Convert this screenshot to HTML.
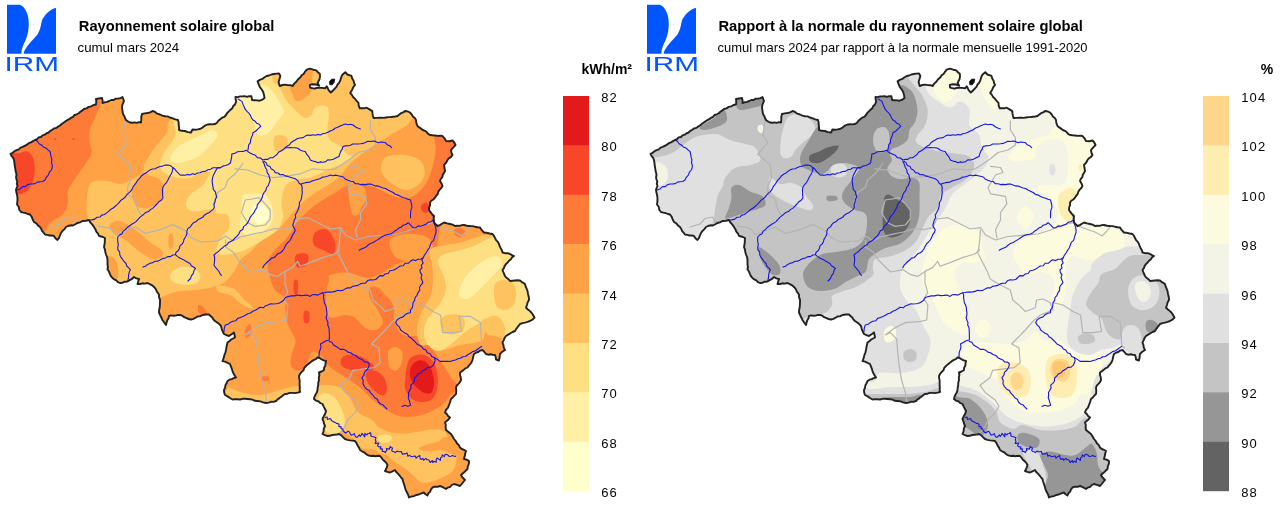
<!DOCTYPE html>
<html><head><meta charset="utf-8"><title>IRM</title>
<style>html,body{margin:0;padding:0;background:#fff}svg{display:block}text{font-family:"Liberation Sans",sans-serif}</style>
</head><body>
<svg width="1280" height="507" viewBox="0 0 1280 507">
<defs><clipPath id="be"><path d="M10.5 153.8 L12.7 152.8 L14.5 151.3 L16.5 150.1 L18.8 149.4 L20.5 147.7 L22.7 146.9 L24.8 145.8 L26.9 144.7 L28.7 143.2 L31 142.4 L33 141.1 L35 140 L37.1 139.2 L38.6 137.4 L41 137 L42.5 135.3 L44.8 134.7 L46.5 133.3 L48.6 132.5 L50.2 130.8 L52.2 129.8 L54 128.5 L56.3 127.9 L58.1 126.6 L60 125.5 L61.7 124 L63.5 122.7 L65.3 121.4 L67.2 120.2 L69.3 119.2 L71 117.8 L73 116.8 L74.6 115 L76.8 114.3 L78.7 113.2 L80.4 111.7 L82.3 110.4 L84 109 L86.5 108.4 L88.7 106.9 L91.2 106.3 L93.5 105 L96 104.5 L96.3 101.8 L96 99 L99 98.5 L102 98 L102.6 100.5 L102.5 103 L104.7 102.3 L107 101.9 L109.2 101 L111.3 100 L113.7 100 L115.7 98.6 L118.1 98.6 L120.4 98.1 L122.5 97 L124 101 L123.1 103.1 L122.3 105.2 L122 107.5 L122.5 110.8 L123 114 L124.2 115.9 L125 118 L126 120 L127.9 121.4 L130 122.5 L132.2 122.7 L134.4 122.4 L136.6 122.9 L138.8 122.1 L141 122.5 L141.3 119.7 L141.3 116.8 L142 114 L144.7 113.4 L147.5 113 L150.2 112.4 L152.5 111 L155.1 111.9 L157.3 113.7 L160 114.5 L162.4 115.6 L165 116.2 L167.6 116.4 L170 117.5 L172.7 118.3 L175.3 119.3 L178 120 L178.6 122.5 L178.7 125 L179.1 127.5 L179 130 L181.9 130.8 L185 131 L187.9 132.1 L191 132.5 L192.5 129.5 L195 129.7 L197.5 129.4 L200 129 L202.5 127.6 L204.8 125.7 L207.5 124.5 L210 124.3 L212.5 124.4 L215 124 L217 122.7 L218.4 120.7 L220.2 119.2 L222.1 117.7 L224.4 116.8 L226 115 L227.2 113 L228.9 111.4 L230.5 109.7 L232.3 108.2 L233.3 106 L235 104.5 L236.2 101.4 L235.6 99.2 L235.5 97 L237.8 97.1 L240 96.4 L242.3 96.4 L244.6 96.1 L246.9 96.8 L249.1 96.1 L251.4 96.2 L252.1 100 L254.6 100.2 L257.2 100.4 L259.7 100.7 L262.3 99.7 L264.5 98 L264 94.9 L263.1 91.8 L261.5 89.3 L259.7 86.9 L258.6 84.2 L257.6 81.4 L259.8 79.9 L262.4 78.9 L264.5 77.3 L266.7 76 L269.1 75.5 L271.4 74.5 L273.9 74 L276.4 73.6 L279 73.5 L280.4 75.9 L279.5 79 L278.6 82.1 L279.7 86 L282.4 85 L285.2 84.6 L287.7 85.1 L290.3 85.2 L292.8 86 L294.2 83.6 L296.3 81.8 L298.1 79.3 L300.4 77.3 L301.7 75.2 L303.8 73.7 L305.1 71.6 L306.7 69.7 L310.1 68.6 L313.2 69.7 L316.3 70.4 L317.9 72.3 L319.8 73.8 L320 76.6 L319.5 79.3 L317.7 82.8 L319.1 85.6 L316.1 84.5 L312.9 84.2 L309.8 84.9 L310.1 87.6 L314.3 88.7 L316.7 88 L319.1 87.6 L322.2 87.9 L325.3 88.3 L326.7 86.2 L327.8 88.3 L328.8 90.4 L330.8 92.5 L333 90.5 L335 88.3 L336.6 86.6 L337.5 84.5 L339.1 82.8 L340.2 80.8 L340.8 78.6 L341.5 76.5 L342.6 74.5 L345.3 72.2 L347.4 74.5 L351.5 75.9 L352.2 78.4 L353.6 80.7 L354 82.9 L355 84.9 L353.3 87.1 L352.2 89.7 L350.2 93.1 L351.9 94.9 L353.1 97.1 L355 98.7 L356.6 100.9 L358.5 102.8 L358.7 105.6 L359.8 108.3 L362.1 108.3 L364.4 108.3 L366.7 107.7 L369.5 109.4 L372.3 111.1 L372.5 113.4 L372.9 115.7 L373.6 118 L376.1 117.9 L378.6 117.8 L381 117.6 L383.5 117.9 L386 117.5 L388.3 117.1 L390.6 117.1 L392.9 116.7 L395.2 116.5 L397.5 116 L399.3 114.6 L401 113.2 L403.2 112.4 L405 111 L407.6 111.4 L410 112.5 L411.6 114.3 L412.8 116.4 L414.8 117.9 L416 120 L416.4 123.1 L417.5 126 L419.2 127.4 L421 128.6 L422.8 130 L424.9 130.8 L426.7 132.1 L428.1 133.9 L430 135 L432.5 135.3 L435 135.5 L437.5 135.9 L440 135.6 L442.5 136 L444.5 138.3 L446 141 L449.3 141.2 L452.5 140.5 L454.3 142.5 L455.5 145 L454 146.7 L452.4 148.3 L451 150 L451.4 152.6 L452.5 155 L451.1 156.9 L449 158.2 L447.5 160 L446.1 162.7 L444 165 L444.5 168 L445 171 L443.9 173 L442.7 174.9 L442.4 177.2 L440.8 178.9 L440 181 L441.5 183.4 L442.5 186 L441.3 188 L439.5 189.8 L438.3 191.8 L437.6 194.2 L436 196 L434.8 197.9 L433.3 199.5 L431.3 200.7 L430 202.5 L430.1 205.1 L429.1 207.5 L429 210 L430.5 212.2 L432.1 214.2 L434 216 L433.6 219.2 L434 222.5 L435.7 224.3 L437.5 226 L439.8 225.1 L441.9 223.7 L444 222.5 L447 223.4 L450 224 L452.6 224.6 L455 226 L457.3 225.8 L459.5 225.9 L461.7 225.1 L464 225 L467 225.7 L470 226 L472.5 226.1 L475 226.7 L477.5 227.2 L480 227.5 L481.8 230.2 L484 232.5 L486.9 232.8 L489.7 233.5 L492.5 234 L494 235.8 L495 238 L496.1 240.2 L497.8 241.9 L499 244 L499.7 246.2 L500.7 248.3 L501.9 250.3 L502.5 252.5 L505 253.2 L507.6 253.2 L510 254 L512 255.1 L514 256 L512.1 257.3 L510.9 259.3 L509.1 260.7 L507.7 262.5 L506 264 L504.7 265.9 L503.9 268.1 L502.5 270 L503.7 273 L505 276 L506.5 277.8 L508.5 279.2 L510 281 L512.5 280.7 L515 280.5 L517.5 280.3 L520 280.5 L522.4 282.4 L525 284 L525.6 286.4 L526.6 288.7 L527.5 291 L527.9 293.2 L528.4 295.5 L528.9 297.7 L529 300 L527.6 302.4 L527 305 L526 307.5 L527.5 309.2 L529.4 310.6 L531.1 312.2 L532.5 314 L534.5 317.5 L532.5 319.6 L530 321 L527.6 321.9 L525 322.6 L522.5 323.2 L520 324 L518.2 326.3 L516.5 328.6 L515 331 L512.6 332 L510.4 333.3 L508.2 334.6 L506 336 L504.6 338 L503.6 340.3 L502.5 342.5 L503.4 345 L503.8 347.6 L505 350 L502.3 351.7 L500 354 L499.6 357.3 L499 360.5 L496 359.5 L495.8 357.2 L495 355 L492.7 354.8 L490.5 354.3 L488.2 354.7 L486 354 L484.3 351.9 L482.5 350 L480.2 350.6 L478.3 352 L476 352.7 L474 354 L473.1 357 L472.5 360 L471.6 362.1 L470.3 364 L468.9 365.7 L467.5 367.5 L465.4 368.4 L463.7 369.9 L461.8 371.2 L460 372.5 L460 375 L460.8 377.5 L461 380 L460 382.1 L458.5 383.8 L456.9 385.4 L456 387.5 L456.3 390.8 L456 394 L454.3 395.7 L452.8 397.5 L451 399 L450.1 402 L449 405 L448 407.7 L446 409.8 L445 412.5 L446.8 414 L448.1 416 L450 417.5 L448.5 419.4 L446.7 420.9 L445 422.5 L445.8 424.9 L445.6 427.5 L446 430 L448.5 432 L451 434 L452.6 436.5 L454 439 L455.7 441 L456.9 443.3 L458.8 445.1 L460 447.5 L461.8 449 L464 449.8 L466 451 L465.2 453.6 L464.7 456.3 L464 459 L466.7 459.6 L469 461 L468.9 463.7 L467.8 466.3 L467.5 469 L465.9 470.5 L464.4 472.1 L462.6 473.5 L461 475 L462.7 477.7 L465 480 L463.3 482 L461.7 484 L460 486 L457 484.9 L454 484 L451.8 485 L450.2 486.9 L447.9 487.6 L446 489 L444 487.9 L442.1 486.8 L440 486 L437.6 486.8 L434.9 486.7 L432.5 487.5 L431 489.4 L430.2 491.6 L428.4 493.3 L427.5 495.5 L425.5 494.3 L424 492.5 L421.3 493.3 L418.8 494.5 L416 495 L413.8 496.1 L411.3 496.5 L409 497.5 L408.2 494.9 L407 492.5 L405.8 490.1 L405 487.5 L404.4 485.4 L403.7 483.3 L403 481.2 L402.5 479 L400.9 477.3 L399.5 475.4 L397.9 473.7 L396.2 472 L395 470 L392.5 471.3 L390 472.5 L387.4 471.9 L385 471 L386.5 468.1 L387.5 465 L386.3 462.9 L384.7 461.3 L382.9 459.7 L381.5 457.8 L380 456 L377.8 455.8 L375.5 456.2 L373.2 455.7 L371 456 L368.3 455.4 L366 454 L364.2 452.3 L362 451.3 L360 450 L359 447.6 L357.6 445.5 L356.5 443.1 L355 441 L352.5 440.6 L349.9 440.4 L347.4 439.8 L345 439 L343.1 437.2 L341.3 435.3 L339 434 L336.7 434.6 L334.4 434.8 L332.1 435 L329.8 435.8 L327.5 436 L324.9 435.2 L322.5 434 L323.6 431.4 L323.8 428.6 L325 426 L324 423.7 L323.4 421.3 L322.5 419 L323.7 416.3 L325.2 413.8 L326 411 L324.8 408.7 L323.6 406.4 L322.5 404 L320.2 403 L318.4 401.3 L315.9 400.6 L314 399 L314.5 396.6 L315.6 394.5 L316.9 392.3 L317.5 390 L317.7 387.5 L318.2 385 L318.3 382.4 L319 380 L318.8 377.5 L319.4 375 L319 372.5 L321.6 371.5 L324 370 L324.1 367.7 L325.4 365.6 L325.5 363.2 L326 361 L323.8 360.4 L321.7 359.4 L319.8 358 L317.5 357.5 L315.8 359.1 L313.5 360.1 L311.5 361.4 L309.6 362.9 L307.8 364.4 L306 366 L304.3 367.8 L303.5 370.2 L301.7 371.9 L300.1 373.8 L299 376 L299.1 378.3 L299.7 380.5 L299.6 382.8 L299.6 385.1 L299.8 387.4 L299.7 389.7 L300 392 L297.5 392.6 L295.1 393.1 L292.5 392.9 L289.9 392.9 L287.5 393.7 L285 394 L283.1 395.3 L281.3 396.7 L279.5 398.1 L277.6 399.4 L276 401 L273.6 401.9 L271 401.8 L268.5 402.6 L266 403 L263.1 402.4 L260.4 401.4 L257.5 401 L254.9 400.8 L252.6 399.6 L250.1 399.2 L247.5 399 L245 398.8 L242.5 398.8 L240 399.5 L237.5 399.2 L235 399.1 L232.5 399.5 L230 398 L227.6 396.4 L225 395 L224.2 392.6 L224 390 L225 387.8 L225.4 385.3 L226.6 383.3 L227.5 381 L229.5 379.7 L231.7 379.1 L233.7 378.1 L236 377.5 L234.7 375.4 L233.4 373.3 L232.5 371 L231.8 368.6 L230.9 366.3 L230 364 L227.6 362.8 L225.1 361.7 L222.5 361 L223.4 358.9 L224 356.6 L224.6 354.4 L225.5 352.3 L226 350 L226.4 347.5 L226.9 345 L227.5 342.5 L229.3 341.2 L231 339.6 L233 338.5 L235 337.5 L234.6 335 L234 332.5 L231.6 334.3 L229 336 L226.5 335.1 L224 334 L222.7 331.5 L221.7 328.8 L221 326 L219.2 324.1 L217.2 322.5 L215 321 L213.4 319.5 L212.3 317.5 L210.5 316.1 L209 314.5 L205.7 314.5 L202.5 315 L200.3 316.2 L197.8 316.4 L195.6 317.7 L193.4 318.9 L191 319.5 L188.7 319 L186.5 318.1 L184.2 317.2 L182.3 315.7 L180 315 L177.8 314.9 L175.6 315.6 L173.4 315.8 L171.2 315.4 L169 316 L168.5 318.3 L167.2 320.4 L166.5 322.7 L166 325 L164.2 322.5 L162.5 320 L161.3 317.5 L160.1 315 L159 312.5 L159.1 310 L159.7 307.5 L159.9 305 L160 302.5 L160.1 299.8 L159 297.2 L159 294.5 L157.6 292.7 L156.5 290.7 L155.5 288.7 L154 287 L152.1 285.3 L149.8 284.1 L147.5 283 L145 283.6 L142.5 283.3 L140 284 L137.5 284 L138.2 281.5 L139 279 L136.4 278.4 L134 277 L132.1 278.8 L129.7 280.1 L127.5 281.5 L124.9 281.7 L122.5 282.7 L120 283 L117.9 282.1 L116.3 280.4 L114.3 279.4 L112.5 278 L110.9 276.1 L109.8 273.9 L109 271.5 L107.5 269.5 L107.9 267 L107.5 264.5 L107.5 262 L107.5 259.5 L107 257 L106 254.5 L105.3 252 L104.9 249.4 L104 247 L104.4 244.8 L104.8 242.5 L104.8 240.3 L105 238 L102.1 236.7 L99 236 L98 233.6 L96.3 231.6 L95.4 229.2 L94 227 L92.4 224.6 L90.4 222.5 L89 220 L85.8 220.7 L82.5 221 L80 222.3 L77.3 223 L75 224.5 L72.9 225.5 L70.4 225.3 L68.1 226 L66 227 L64.4 229.1 L62.6 230.9 L61 233 L60 235.4 L59 237.9 L57.5 240 L55.4 238.3 L54 236 L51.8 235.4 L49.5 235.5 L47.3 234.9 L45 234.5 L43.6 232.7 L42.1 231 L41.2 228.9 L40 227 L38 225.4 L36.3 223.3 L34 222 L32.7 219.5 L31.7 216.8 L30 214.5 L27.7 214 L25.6 213 L23.3 212.6 L21 212 L19.3 209.7 L18.7 206.8 L17 204.5 L17.4 201.3 L17.5 198 L17.1 195.2 L16.4 192.3 L16 189.5 L17.5 186 L16.8 183.8 L17.3 181.5 L16.4 179.3 L16.1 177 L16.5 174.7 L16 172.5 L15.4 170 L15.1 167.5 L14.6 165 L14.4 162.5 L14 160 L13.1 157.8 L11.5 155.9Z"/></clipPath></defs>
<rect width="1280" height="507" fill="#fff"/>
<g transform="translate(0,0)">
<g clip-path="url(#be)">
<rect x="0" y="60" width="560" height="447" fill="#FEA245"/>
<path fill="#FD7B37" d="M98.5 100C104.3 101.4 96.1 113.7 94.7 118.4C93.3 123.1 90.9 124.3 90 128C89.1 131.7 89 136.3 89.3 140.5C89.5 144.7 92.2 149.1 91.5 153C90.8 156.9 88.1 159.5 85.2 164C82.3 168.5 77.1 175.5 74.2 180C71.3 184.5 68.8 187.2 67.8 191C66.8 194.8 68.8 199.2 68 203C67.2 206.8 66 210.7 63 214C60 217.3 53.2 220 50 223C46.8 226 47.3 229.2 44 232C40.7 234.8 37.3 245.3 30 240C22.7 234.7 5 216.7 0 200C-5 183.3 -10 155 0 140C10 125 43.6 116.7 60 110C76.4 103.3 92.7 98.6 98.5 100Z"/>
<path fill="#FD7B37" d="M267.5 262.6C268.3 258 272.1 253.8 275 250C277.9 246.2 282.1 243.3 285 240C287.9 236.7 290.7 232.9 292.6 230C294.5 227.1 293.6 226.2 296.6 222.7C299.6 219.2 306 212.8 310.4 209C314.8 205.2 318.8 202.7 323 200C327.2 197.3 331.4 194.9 335.4 192.6C339.3 190.3 342.5 187.4 346.7 186C350.9 184.6 355.7 183.7 360.5 184C365.3 184.3 371.3 186.2 375.5 187.6C379.7 189 381.9 190.9 385.6 192.6C389.4 194.3 393.8 196.8 398 197.6C402.2 198.4 406.8 198.9 410.6 197.6C414.4 196.3 417.8 192.9 420.7 190C423.6 187.1 425.9 184.2 428 180C430.1 175.8 431.7 170 433 165C434.3 160 435 155.5 435.7 150C436.4 144.5 431.3 135 437 132C442.7 129 465.3 122.3 470 132C474.7 141.7 469.2 176.2 465 190C460.8 203.8 449.2 208.7 445 215C440.8 221.3 441.2 223.8 440 228C438.8 232.2 438.7 235.5 438 240C437.3 244.5 437 250.3 436 255C435 259.7 432.3 263 432 268C431.7 273 434.7 279.7 434 285C433.3 290.3 430.3 296.7 428 300C425.7 303.3 420.8 302.8 420 305C419.2 307.2 423 309.7 423 313C423 316.3 420 321.3 420 325C420 328.7 421.3 331.7 423 335C424.7 338.3 427.7 341.5 430 345C432.3 348.5 434.5 352.2 437 356C439.5 359.8 442.3 364 445 368C447.7 372 450.2 376.3 453 380C455.8 383.7 462.2 387.8 462 390C461.8 392.2 455.3 390.5 452 393C448.7 395.5 446.5 401.5 442 405C437.5 408.5 431.2 412 425 414C418.8 416 410.8 417.3 405 417C399.2 416.7 395.2 414.7 390 412C384.8 409.3 379.2 405.2 374 401C368.8 396.8 363.9 390.7 359 386.7C354.1 382.7 349.5 380.3 344.7 377C339.9 373.7 333.7 370.3 330 367C326.3 363.7 325.7 359.5 322.7 357C319.7 354.5 314.9 350.2 312 352C309.1 353.8 308.3 364.7 305.5 367.7C302.7 370.7 297.9 370.8 295.4 370C292.9 369.2 290.8 366 290.4 362.7C290 359.4 292.2 353.8 293 350C293.8 346.2 296.2 344.2 295.4 340C294.6 335.8 289.7 330 288 325C286.3 320 285.9 314.6 285.4 310C284.9 305.4 286.7 301 285 297.7C283.3 294.4 277.5 293.4 275 290C272.5 286.6 271.2 282.2 270 277.6C268.8 273 266.7 267.2 267.5 262.6Z"/>
<path fill="#FEA245" d="M330 275C333.1 273.8 341.9 272.2 347.7 272.6C353.5 273 360 277.2 365 277.6C370 278 372.8 277.1 377.8 275C382.8 272.9 389.6 267.5 395 265C400.4 262.5 405.3 261.2 410 260C414.7 258.8 419.2 257.1 423 257.6C426.8 258.1 430.2 259.3 433 263C435.8 266.7 439.5 273.8 440 280C440.5 286.2 438 293.3 436 300C434 306.7 430.3 314.3 428 320C425.7 325.7 424.9 331.3 422 334C419.1 336.7 413.8 336 410.5 336C407.2 336 404.5 335.5 402.2 334C399.9 332.5 398.1 329.6 396.7 327C395.3 324.4 394.3 321.9 393.9 318.7C393.4 315.5 394.6 311.1 394 308C393.4 304.9 391.5 302.2 390 300C388.5 297.8 387 297.1 385 295C383 292.9 380.3 288.8 377.8 287.6C375.3 286.4 371.3 285.9 370 287.6C368.7 289.3 368.7 294 370 297.7C371.3 301.4 375.7 305.8 377.8 310C379.9 314.2 383.3 319.4 382.8 322.7C382.3 326 378 329.2 375 330C372 330.8 368.3 329.8 365 327.7C361.7 325.6 358.3 319.8 355 317.7C351.7 315.6 348.7 315 345 315C341.3 315 335.8 318.1 332.7 317.7C329.6 317.3 327.4 316.9 326.4 312.7C325.3 308.5 326 298.1 326.4 292.7C326.8 287.2 328.4 282.9 329 280C329.6 277.1 326.9 276.2 330 275Z"/>
<path fill="#FEA245" d="M390 240C391.5 237.5 395.8 236 400 235C404.2 234 410.3 233.5 415 234C419.7 234.5 425 235.7 428 238C431 240.3 432.3 244.7 433 248C433.7 251.3 433.3 255.7 432 258C430.7 260.3 428.7 261.3 425 262C421.3 262.7 414.7 262.7 410 262C405.3 261.3 400.2 260 397 258C393.8 256 392.2 253 391 250C389.8 247 388.5 242.5 390 240Z"/>
<path fill="#FEA245" d="M349 188C350.2 184.5 354.3 183.8 357 184C359.7 184.2 363.5 186.3 365 189C366.5 191.7 366.7 196.8 366 200C365.3 203.2 362.2 205.7 361 208C359.8 210.3 360.3 212.8 359 214C357.7 215.2 354.5 216.5 353 215C351.5 213.5 350.7 209.5 350 205C349.3 200.5 347.8 191.5 349 188Z"/>
<path fill="#FEA245" d="M389 350C390.3 348.2 393.8 346.7 396 347C398.2 347.3 401 349.5 402 352C403 354.5 402.8 359 402 362C401.2 365 399 369 397 370C395 371 391.5 370 390 368C388.5 366 388.2 361 388 358C387.8 355 387.7 351.8 389 350Z"/>
<path fill="#FD7B37" d="M455 229C456 228.2 458.3 227.7 460 228C461.7 228.3 464.3 229.7 465 231C465.7 232.3 465.2 235 464 236C462.8 237 459.7 237.5 458 237C456.3 236.5 454.5 234.3 454 233C453.5 231.7 454 229.8 455 229Z"/>
<path fill="#FD7B37" d="M198.5 305C199.3 304.2 202.5 306.3 204 308C205.5 309.7 208.3 314.2 207.5 315C206.7 315.8 200.5 314.7 199 313C197.5 311.3 197.7 305.8 198.5 305Z"/>
<path fill="#FD7B37" d="M245 330C245.7 327.7 248.9 323.5 250 324C251.1 324.5 252.2 330.7 251.5 333C250.8 335.3 247.1 338.5 246 338C244.9 337.5 244.3 332.3 245 330Z"/>
<path fill="#FD7B37" d="M261.5 377C262.5 376.3 266.8 375.9 268 376.5C269.2 377.1 269.5 379.8 268.5 380.5C267.5 381.2 263.2 381.1 262 380.5C260.8 379.9 260.5 377.7 261.5 377Z"/>
<path fill="#F84728" d="M8 155C10.3 152.2 16.8 153.6 20 153C23.2 152.4 24.8 150.7 27 151.5C29.2 152.3 31.7 154.4 33 157.8C34.3 161.2 35 167.5 34.7 172C34.5 176.5 33.3 181.2 31.5 184.7C29.7 188.2 26.9 191.8 23.7 193C20.4 194.2 14.9 195.8 12 192C9.1 188.2 6.7 176.2 6 170C5.3 163.8 5.7 157.8 8 155Z"/>
<path fill="#F84728" d="M314 234C315.5 231.3 320.3 229.2 323 229C325.7 228.8 328.3 230 330.4 232.7C332.5 235.4 335 241.4 335.4 245C335.8 248.6 335.1 253.2 333 254C330.9 254.8 326.2 251.5 323 250C319.8 248.5 315.5 247.7 314 245C312.5 242.3 312.5 236.7 314 234Z"/>
<path fill="#F84728" d="M296 255C297.8 253 305 252.8 307 254C309 255.2 308.7 259.8 308 262C307.3 264.2 305 266.3 303 267C301 267.7 297.2 268 296 266C294.8 264 294.2 257 296 255Z"/>
<path fill="#F84728" d="M294 281C294.6 279 297 279 297.6 281C298.2 283 298.2 291 297.6 293C297 295 294.6 295 294 293C293.4 291 293.4 283 294 281Z"/>
<path fill="#F84728" d="M304 312C304.8 310.3 308.2 310.3 309 312C309.8 313.7 309.8 320.3 309 322C308.2 323.7 304.8 323.7 304 322C303.2 320.3 303.2 313.7 304 312Z"/>
<path fill="#F84728" d="M421 206C421.7 204.6 424.6 202.4 426 202.6C427.4 202.8 429.2 205.3 429.4 207C429.6 208.7 428.2 212 427 212.7C425.8 213.4 423 212.1 422 211C421 209.9 420.3 207.4 421 206Z"/>
<path fill="#F84728" d="M341.4 358.7C342.3 356.9 344 355.4 347 355C350 354.6 355.7 354.9 359.4 356C363.1 357.1 366.5 359.7 369 361.5C371.5 363.3 374.4 365.4 374.6 367C374.8 368.6 372.7 370.5 370.4 371C368.1 371.5 364.2 370 360.8 369.8C357.4 369.6 352.9 370.5 349.7 369.8C346.5 369.1 342.8 367.5 341.4 365.6C340 363.8 340.5 360.5 341.4 358.7Z"/>
<path fill="#F84728" d="M366.3 372.5C367.7 370.6 373 370.1 376 371C379 371.9 382.5 375 384.3 378C386.1 381 387.2 386.1 387 389C386.8 391.9 385.1 395.2 383 395.5C380.9 395.8 377.2 393.2 374.6 391C372.1 388.8 369.1 385.3 367.7 382.2C366.3 379.1 364.9 374.4 366.3 372.5Z"/>
<path fill="#F84728" d="M407.7 362.9C409 359.4 410.5 357.3 413.3 356C416.1 354.7 420.9 353.9 424.3 355C427.8 356.1 431.8 359.3 434 362.9C436.2 366.5 437.2 372 437.6 376.7C438.1 381.4 437.8 387.1 436.7 391C435.6 394.9 433.8 398.2 431 400C428.2 401.8 423.4 402.3 420 402C416.6 401.7 413 400.3 410.5 398C408 395.7 405.8 391.6 405 388C404.2 384.4 405.1 380.9 405.5 376.7C405.9 372.5 406.4 366.3 407.7 362.9Z"/>
<path fill="#F84728" d="M54.5 138.3C54.8 138.1 55.8 138.1 56 138.3C56.2 138.6 56.2 139.6 56 139.8C55.8 140.1 54.8 140.1 54.5 139.8C54.2 139.6 54.2 138.6 54.5 138.3Z"/>
<path fill="#F84728" d="M72.8 138.3C73 138.1 74 138.1 74.3 138.3C74.5 138.6 74.5 139.6 74.3 139.8C74 140.1 73 140.1 72.8 139.8C72.5 139.6 72.5 138.6 72.8 138.3Z"/>
<path fill="#E31A1C" d="M410.5 368.4C411.4 365.6 413.7 362.7 416 361.5C418.3 360.3 421.8 359.8 424.3 361C426.8 362.2 429.6 365.5 431.2 369C432.8 372.5 433.9 378.3 434 382.2C434.1 386.1 433.1 390.7 431.5 392.5C429.9 394.3 426.9 393.9 424.3 393C421.7 392.1 418.3 389.5 416 387C413.7 384.5 411.4 381.1 410.5 378C409.6 374.9 409.6 371.1 410.5 368.4Z"/>
<path fill="#FEC35E" d="M173 118C164.2 123.4 169.3 128.4 167 132.5C164.7 136.6 161.7 139.1 159 142.5C156.3 145.9 153.5 149.2 151 153C148.5 156.8 145.3 161.8 144 165C142.7 168.2 145.2 169.5 143 172C140.8 174.5 134.8 178 131 180C127.2 182 123.8 183.8 120 184C116.2 184.2 112.2 181.5 108 181C103.8 180.5 98.2 180.2 95 181C91.8 181.8 90.3 183.2 89 186C87.7 188.8 87.3 193.2 87 198C86.7 202.8 86.2 210.7 87 215C87.8 219.3 89.8 219.8 92 224C94.2 228.2 98.7 233.7 100 240C101.3 246.3 99.2 256.2 100 262C100.8 267.8 102.5 271.2 105 275C107.5 278.8 110 283.3 115 285C120 286.7 129.2 284.2 135 285C140.8 285.8 145.8 288 150 290C154.2 292 155.8 296.7 160 297C164.2 297.3 169.2 293.2 175 292C180.8 290.8 188.7 290.8 195 290C201.3 289.2 208 288.3 213 287C218 285.7 221.3 284.8 225 282C228.7 279.2 232.5 273.7 235 270C237.5 266.3 237.5 263 240 260C242.5 257 246.7 255 250 252C253.3 249 256.7 244.7 260 242C263.3 239.3 266.7 238.3 270 236C273.3 233.7 276.7 231.3 280 228C283.3 224.7 286.3 220.2 290 216C293.7 211.8 297.8 206.8 302 203C306.2 199.2 310.7 196 315 193C319.3 190 323.8 187.8 328 185C332.2 182.2 336.3 179.5 340 176C343.7 172.5 346.6 167.5 350 164C353.4 160.5 356.2 158.2 360.4 155C364.6 151.8 370.4 148.3 375.4 145C380.4 141.7 384.7 138.8 390.5 135C396.3 131.2 406.4 127 410 122C413.6 117 417 108.7 412 105C407 101.3 388.7 107.5 380 100C371.3 92.5 381.7 66.7 360 60C338.3 53.3 273.3 53.3 250 60C226.7 66.7 232.8 90.3 220 100C207.2 109.7 181.8 112.6 173 118Z"/>
<path fill="#FEC35E" d="M383 160C384.9 157.1 388.4 155.7 393 155C397.6 154.3 405.8 154.8 410.6 156C415.4 157.2 419.7 159.3 422 162.5C424.3 165.7 425.1 171.2 424.4 175C423.7 178.8 421.1 182.5 418 185C414.9 187.5 410.2 190.4 405.6 190C401 189.6 394.5 185.5 390.5 182.6C386.5 179.7 383.1 176.4 381.8 172.6C380.6 168.8 381.1 162.9 383 160Z"/>
<path fill="#FEC35E" d="M228 388C230.3 386.3 234.7 390.8 240 392C245.3 393.2 253.3 395.3 260 395C266.7 394.7 273.3 391.5 280 390C286.7 388.5 296.3 385 300 386C303.7 387 304.5 393.2 302 396C299.5 398.8 291 401 285 403C279 405 272.7 407.7 266 408C259.3 408.3 251.7 406 245 405C238.3 404 228.8 404.8 226 402C223.2 399.2 225.7 389.7 228 388Z"/>
<path fill="#FEC35E" d="M430 250C432.2 246.7 440 246.2 445 245C450 243.8 455 243.9 460 242.7C465 241.5 470.8 239 475 237.7C479.2 236.4 480.8 234.9 485 235C489.2 235.1 490.8 233.8 500 238C509.2 242.2 532.5 246.3 540 260C547.5 273.7 550 306.7 545 320C540 333.3 517 336.2 510 340C503 343.8 504.6 343.9 503 342.7C501.4 341.5 501.8 336 500.5 332.7C499.2 329.4 497.9 322.6 495.4 322.6C492.9 322.6 487.5 329.8 485.4 332.7C483.3 335.6 484.7 338.3 483 340C481.3 341.7 479.2 341.9 475.4 342.7C471.6 343.5 465.8 343.8 460.4 345C455 346.2 447.9 350 442.8 350C437.7 350 433.6 345.8 430 345C426.4 344.2 423.2 347 421 345C418.8 343 417.3 337.5 417 333C416.7 328.5 417.7 322.5 419 318C420.3 313.5 423 309.8 425 306C427 302.2 429.7 299.3 431 295C432.3 290.7 432.8 285 433 280C433.2 275 432.5 270 432 265C431.5 260 427.8 253.3 430 250Z"/>
<path fill="#FEC35E" d="M312 388C314.5 385.8 320.3 385.1 325 385C329.7 384.9 335.8 385.3 340 387.5C344.2 389.7 347.1 393.9 350 398C352.9 402.1 354.1 408.2 357.7 411.8C361.3 415.4 368 417.1 371.6 419.7C375.2 422.3 376.1 425.5 379.4 427.6C382.7 429.7 387 431.5 391.3 432.5C395.6 433.5 400.4 433.6 405 433.5C409.6 433.4 414.3 432.2 418.9 431.6C423.5 431 428.5 429.8 432.7 429.6C436.9 429.4 441.4 429.4 444 430.6C446.6 431.8 446.1 434.3 448 437C449.9 439.7 454.1 442.7 455.4 447C456.7 451.3 456.8 458.7 456 463C455.2 467.3 453.4 470.3 450.5 473C447.6 475.7 442.6 477.4 438.6 479C434.7 480.6 430.1 482.5 426.8 482.8C423.5 483.1 421.2 482.2 418.9 480.9C416.6 479.6 415.6 477.3 413 475C410.4 472.7 406.4 469.3 403.1 467C399.8 464.7 395.9 463 393.3 461C390.7 459 389.6 456.5 387.3 455.2C385 453.9 381.4 454.2 379.4 453.3C377.3 452.4 377.9 450.9 375 450C372.1 449.1 365.8 450 362 448C358.2 446 355.7 441 352 438C348.3 435 344.5 429.7 340 430C335.5 430.3 329.2 439 325 440C320.8 441 316.2 439.3 315 436C313.8 432.7 317.5 425.2 318 420C318.5 414.8 319.3 408.7 318 405C316.7 401.3 311 400.8 310 398C309 395.2 309.5 390.2 312 388Z"/>
<path fill="#FEC35E" d="M218 285.5C220.7 285.1 229.7 286.6 234 288.8C238.3 291.1 240.4 295.9 243.6 299C246.8 302.1 252.4 305.8 253.3 307.3C254.2 308.8 251.3 308.8 249 308C246.7 307.2 242.4 304.6 239.4 302.5C236.4 300.4 234.8 297.3 231.2 295.5C227.6 293.7 220.2 293.2 218 291.5C215.8 289.8 215.3 285.9 218 285.5Z"/>
<path fill="#FEA245" d="M138 180C140 177 142 172.7 144 172C146 171.3 147.7 175 150 176C152.3 177 155.8 176.5 158 178C160.2 179.5 162.2 182.2 163 185C163.8 187.8 163.8 192 163 195C162.2 198 160.5 200.8 158 203C155.5 205.2 151.3 207.3 148 208C144.7 208.7 140.5 208.3 138 207C135.5 205.7 134 202.8 133 200C132 197.2 131.2 193.3 132 190C132.8 186.7 136 183 138 180Z"/>
<path fill="#FEA245" d="M110 224.6C111.2 222.8 115.8 220.2 120 221C124.2 221.8 130 226.1 135 229.6C140 233.1 145.3 238.3 150 242C154.7 245.7 162.1 249.1 163 252C163.9 254.9 159.2 259.7 155.4 259.7C151.6 259.7 145.1 255.3 140 252C134.9 248.7 129.5 242.9 125 239.6C120.5 236.3 115.3 234.5 112.8 232C110.3 229.5 108.8 226.4 110 224.6Z"/>
<path fill="#FEA245" d="M104 257C105.7 255 111.7 256.2 114 258C116.3 259.8 117.5 264.3 118 268C118.5 271.7 118.3 277.5 117 280C115.7 282.5 112.2 284.7 110 283C107.8 281.3 105 274.3 104 270C103 265.7 102.3 259 104 257Z"/>
<path fill="#FEA245" d="M290 89C289.9 87.2 290.5 86.3 292.2 84C293.9 81.7 297.7 78 300 75C302.3 72 304 67.3 306 66C308 64.7 311.2 64.7 312.2 67C313.2 69.3 312.1 76.1 312 80C311.9 83.9 312.3 87.8 311.5 90.4C310.7 93.1 308.9 94.3 307.3 95.9C305.7 97.5 303.8 99.2 301.8 100C299.9 100.8 297.1 101.6 295.6 100.7C294.1 99.8 293.7 96.5 292.8 94.5C291.9 92.5 290.1 90.8 290 89Z"/>
<path fill="#FEA245" d="M169 235C169.7 233 172.3 233 173 235C173.7 237 173.7 245 173 247C172.3 249 169.7 249 169 247C168.3 245 168.3 237 169 235Z"/>
<path fill="#FEA245" d="M462 436C458.8 432.8 448.4 436.6 444.5 437.5C440.6 438.4 441.6 440.2 438.6 441.4C435.7 442.5 430.1 443.2 426.8 444.4C423.5 445.5 418.9 447.1 418.9 448.3C418.9 449.5 422.9 451 426.8 451.3C430.8 451.6 438.3 449.8 442.6 450.3C446.9 450.8 448.8 453.1 452.4 454.2C456 455.3 462.4 460 464 457C465.6 454 465.2 439.2 462 436Z"/>
<path fill="#FEDF82" d="M175 118C179.1 112.2 190 104.7 200 100C210 95.3 225.8 95 235 90C244.2 85 248.9 73.3 255 70C261.1 66.7 268.4 68.2 271.4 70C274.4 71.8 271.4 77.8 272.8 80.7C274.2 83.6 277.6 84.6 279.7 87.6C281.8 90.6 283.3 95.7 285.2 98.7C287.1 101.7 288.7 103.3 290.8 105.6C292.9 107.9 295.4 110.4 297.7 112.5C300 114.6 302.3 117.5 304.6 118C306.9 118.5 309.9 116.8 311.5 115.2C313.1 113.6 312.7 109.9 314.3 108.3C315.9 106.7 319 105.8 321.2 105.6C323.4 105.4 326.1 105.4 327.4 107C328.7 108.6 328.8 111.4 328.8 115.2C328.8 119 327.3 125.9 327.5 130C327.7 134.1 327.9 137.3 330 140C332.1 142.7 337.3 143.8 340 146C342.7 148.2 344 151 346 153C348 155 353 156 352 158C351 160 343.2 163.4 340 165C336.8 166.6 338 165.4 333 167.5C328 169.6 316.2 175.5 310 177.6C303.8 179.7 299.8 178.9 296 180C292.2 181.1 289.2 181.7 287 184C284.8 186.3 283.4 190.5 282.5 194C281.6 197.5 281.4 201.2 281.5 205C281.6 208.8 283.6 212.7 283 216.7C282.4 220.7 281.2 225.3 278 229C274.8 232.7 269.5 235.5 264 239C258.5 242.5 249.8 247.7 245 250C240.2 252.3 238.7 252 235 252.8C231.3 253.6 225.8 255.5 222.7 255C219.6 254.5 216.6 252.9 216.4 250C216.2 247.1 219.3 241.4 221.4 237.7C223.5 234 227.9 231.5 229 227.7C230.1 223.9 229.8 217.5 227.7 215C225.6 212.5 218.3 215.2 216.4 212.7C214.5 210.2 216.8 204.6 216.4 200C216 195.4 215.1 189.7 214 185C212.9 180.3 212.3 174 210 172C207.7 170 203.2 172 200 173C196.8 174 193.8 177 190.5 177.8C187.2 178.6 183.8 178.5 180 178C176.2 177.5 171.3 176.7 168 175C164.7 173.3 161.2 171.1 160.4 167.8C159.6 164.5 160.5 160.5 163 155C165.5 149.5 173.4 141.2 175.4 135C177.4 128.8 170.9 123.8 175 118Z"/>
<path fill="#FEDF82" d="M212 172C209.7 171.2 206.7 181.2 203 185C199.3 188.8 192.8 191.7 190 195C187.2 198.3 185.7 202.3 186 205C186.3 207.7 188.8 210.2 192 211C195.2 211.8 200.8 210.8 205 210C209.2 209.2 215 209.3 217 206C219 202.7 217.8 195.7 217 190C216.2 184.3 214.3 172.8 212 172Z"/>
<path fill="#FEDF82" d="M172 272C173.7 270.2 176.7 267.7 180 267C183.3 266.3 188.7 266.8 192 268C195.3 269.2 199 271.7 200 274C201 276.3 200 280.2 198 282C196 283.8 191.7 284.8 188 285C184.3 285.2 179 284.2 176 283C173 281.8 170.7 279.8 170 278C169.3 276.2 170.3 273.8 172 272Z"/>
<path fill="#FEDF82" d="M438 262C437.8 258.3 439.5 256.9 443 255C446.5 253.1 453.8 252 459 250.5C464.2 249 469.5 247.8 474 246C478.5 244.2 482.4 241.5 485.8 240C489.2 238.5 490.7 236.7 494.7 237C498.7 237.3 504.9 237.8 510 242C515 246.2 524.2 257.3 525 262C525.8 266.7 513.3 266.2 515 270C516.7 273.8 530 276.7 535 285C540 293.3 550 311.5 545 320C540 328.5 512.2 333.8 505 336C497.8 338.2 503.2 334.9 502 333C500.8 331.1 499.8 325 497.6 324.5C495.4 324 490.8 331 488.8 330C486.8 329 487.8 319.5 485.8 318.6C483.8 317.7 480.7 322.1 477 324.5C473.3 326.9 468.1 329.6 463.6 333C459.1 336.4 454.2 342 450 345C445.8 348 442.2 351 438.5 351C434.8 351 430.4 348 428 345C425.6 342 424.2 337.2 424 333C423.8 328.8 425.3 323.7 427 320C428.7 316.3 431.7 314 434 311C436.3 308 439 305.5 441 302C443 298.5 445.5 294.2 446 290C446.5 285.8 445.3 281.7 444 277C442.7 272.3 438.2 265.7 438 262Z"/>
<path fill="#FEDF82" d="M318 398C318.5 395.5 322.2 393 325 393C327.8 393 332.2 395.2 335 398C337.8 400.8 340.3 406 342 410C343.7 414 345.3 418.3 345 422C344.7 425.7 342.5 430 340 432C337.5 434 332.7 434.7 330 434C327.3 433.3 324.7 430.7 324 428C323.3 425.3 326.3 421.3 326 418C325.7 414.7 323.3 411.3 322 408C320.7 404.7 317.5 400.5 318 398Z"/>
<path fill="#FEDF82" d="M377.5 437.5C377.8 436.2 380.7 434.8 383 434.5C385.3 434.2 390.1 434.8 391.3 436C392.5 437.2 391.7 440.4 390 441.5C388.3 442.6 383.1 443.1 381 442.4C378.9 441.7 377.2 438.8 377.5 437.5Z"/>
<path fill="#FEC35E" d="M274 138C274.8 135.5 277.8 135 280 135C282.2 135 285.8 136 287 138C288.2 140 287.8 144.8 287 147C286.2 149.2 284 151 282 151.5C280 152 276.3 152.2 275 150C273.7 147.8 273.2 140.5 274 138Z"/>
<path fill="#FEC35E" d="M495 284C496.5 281.3 500.2 280.3 503 280C505.8 279.7 509.8 279.8 512 282C514.2 284.2 515.7 289.3 516 293C516.3 296.7 515.7 301.2 514 304C512.3 306.8 508.8 309.5 506 310C503.2 310.5 499 309.3 497 307C495 304.7 494.3 299.8 494 296C493.7 292.2 493.5 286.7 495 284Z"/>
<path fill="#FEC35E" d="M441 319C442.3 316.4 446.7 315.1 450 314.5C453.3 313.9 458.5 314.1 461 315.5C463.5 316.9 464.8 320.4 465 323C465.2 325.6 464.3 329.1 462 331C459.7 332.9 454.3 334.7 451 334.5C447.7 334.3 443.7 332.6 442 330C440.3 327.4 439.7 321.6 441 319Z"/>
<path fill="#FEC35E" d="M484 322C484.8 319 489.3 316.7 492 316C494.7 315.3 497.8 316 500 318C502.2 320 504.5 324.7 505 328C505.5 331.3 504.7 336.7 503 338C501.3 339.3 497.7 336.7 495 336C492.3 335.3 488.8 336.3 487 334C485.2 331.7 483.2 325 484 322Z"/>
<path fill="#FFF0A6" d="M170.4 158C170.3 155.8 173.3 152.2 175 150C176.7 147.8 177.9 146.7 180.5 145C183.1 143.3 186.3 142.1 190.5 140C194.7 137.9 201.8 134.4 205.5 132.7C209.2 131 210.9 129.6 213 130C215.1 130.4 218.4 132.5 218 135C217.6 137.5 213.4 141.7 210.5 145C207.6 148.3 203.8 152.5 200.5 155C197.2 157.5 194.7 158.7 190.5 160C186.3 161.3 178.8 163.3 175.4 163C172.1 162.7 170.5 160.2 170.4 158Z"/>
<path fill="#FFF0A6" d="M259.7 86.2C261.3 85.5 263.9 85 265.9 85.6C267.8 86.2 269.3 87.3 271.4 89.7C273.5 92.1 276.2 96.5 278.3 100C280.4 103.5 283.4 108.2 283.9 111C284.4 113.8 282.5 114.5 281.1 116.6C279.7 118.7 277.2 121.3 275.6 123.5C274 125.7 273.2 128.1 271.4 130C269.6 131.9 267.3 134.3 265 135C262.7 135.7 259.4 136.1 257.6 134C255.8 131.9 255.4 126 254 122.7C252.6 119.4 250.9 117 249 114C247.1 111 245.1 107.7 242.6 105C240.1 102.3 233.1 100.2 234 98C234.9 95.8 244.3 93.3 248 92C251.7 90.7 254.1 91 256 90C257.9 89 258.1 86.9 259.7 86.2Z"/>
<path fill="#FFF0A6" d="M242.7 196.4C244.1 193.7 246.7 194.4 250 194C253.3 193.6 259.5 193 262.8 194C266.1 195 268.3 196.9 270 200C271.7 203.1 272.6 208.9 272.8 212.7C273.1 216.5 272.8 219.8 271.5 222.7C270.2 225.6 267.8 227.9 265 230C262.2 232.1 258.3 234.2 255 235C251.7 235.8 247.5 236.7 245 235C242.5 233.3 240.6 229.2 240 225C239.4 220.8 241.1 214.8 241.5 210C241.9 205.2 241.3 199.1 242.7 196.4Z"/>
<path fill="#FFF0A6" d="M459 295C458.5 291.8 461.1 284.5 463.6 280C466.1 275.5 470.3 271.4 474 268C477.7 264.6 481.9 261.3 485.8 259.4C489.7 257.5 494.9 255.7 497.6 256.4C500.3 257.1 502.5 260.9 502 263.8C501.5 266.7 497.4 270.8 494.7 274C492 277.2 489 279.8 485.8 283C482.6 286.2 478.6 290.7 475.4 293.4C472.2 296.1 469.3 299 466.6 299.3C463.9 299.6 459.5 298.2 459 295Z"/>
<path fill="#FFFFCC" d="M252 208C253 205.7 255.7 204.2 258 204C260.3 203.8 264.2 205.2 266 207C267.8 208.8 269 212.5 269 215C269 217.5 267.8 220.5 266 222C264.2 223.5 260.3 224.7 258 224C255.7 223.3 253 220.7 252 218C251 215.3 251 210.3 252 208Z"/>
</g>
<path d="M125.3 120 L122.8 135 L127.8 142.7 L117.8 154 L130.3 165 L131.6 177.8 L127.8 186.6 L127.8 194.5 L135.3 199.5 L137.8 209.6 L141 215" fill="none" stroke="#B4B4B4" stroke-width="1.2" stroke-linejoin="round" stroke-linecap="round"/>
<path d="M50 227 L60 224 L65 218.5 L72.7 217 L75 222 L82.7 220.8 L89 219.5" fill="none" stroke="#B4B4B4" stroke-width="1.2" stroke-linejoin="round" stroke-linecap="round"/>
<path d="M97.7 225.8 L110.3 228.4 L115.3 234.6 L125.3 230.9 L135.3 227 L145.4 233.4 L160.4 229.6 L173 224.6 L185.5 230.9 L190.5 237 L200.5 242 L218 240.9 L225.6 235.9 L233 240.9 L240.6 237 L250.6 234.6 L263.2 232 L275.7 228.4 L283.2 229.6 L292.8 227.7 L296.6 219 L307.9 217.7 L320.4 224 L330.4 229 L340.5 227.7 L345.5 235 L355.5 240 L368 236.5 L385.6 235 L398 234 L410.6 230 L423 225 L433 222.7" fill="none" stroke="#B4B4B4" stroke-width="1.2" stroke-linejoin="round" stroke-linecap="round"/>
<path d="M225.6 240 L225.6 247 L233 252 L238 259.7 L250.6 272 L263.2 269.7 L270.7 274.7 L277.5 276.4 L285 271.4 L292.6 267.6 L297.6 261.3 L300.1 266.3 L310.1 262.6 L322.7 257.6 L335.2 253.8 L339.5 250" fill="none" stroke="#B4B4B4" stroke-width="1.2" stroke-linejoin="round" stroke-linecap="round"/>
<path d="M241.5 212.7 L245.2 200 L252.7 198.9 L259 197.6 L265.3 203.9 L270.3 210 L270.3 219 L265.3 225 L255.2 226.4 L247.7 222.7 L241.5 212.7" fill="none" stroke="#B4B4B4" stroke-width="1.2" stroke-linejoin="round" stroke-linecap="round"/>
<path d="M213 205 L217.6 192.6 L225.2 187.6 L227.7 180 L235.2 173.8 L239 168.8 L243 163" fill="none" stroke="#B4B4B4" stroke-width="1.2" stroke-linejoin="round" stroke-linecap="round"/>
<path d="M235 168.8 L247.7 170 L260.3 175 L272.8 177.6 L285.3 176.3 L300.4 173.8 L312.9 168.8 L325.4 170 L335.4 168.8 L343 163.8 L350.5 158.8 L358 152.5 L368 150 L375.4 145 L375.4 137.7 L370.4 130 L370.4 121" fill="none" stroke="#B4B4B4" stroke-width="1.2" stroke-linejoin="round" stroke-linecap="round"/>
<path d="M350.5 166.3 L360.5 167.5 L363 172.5 L355.5 175 L352 181 L348 187.6 L350.5 193.9 L365.5 196.4 L366.8 203.9 L360.5 212.7 L360.5 220 L355.5 230 L357 238" fill="none" stroke="#B4B4B4" stroke-width="1.2" stroke-linejoin="round" stroke-linecap="round"/>
<path d="M340.5 230 L339.2 245.2 L337.7 252.6 L342.7 262.6 L347.7 272.6 L350.2 278.9 L360.3 285 L370.3 290 L372.8 300 L380.3 306.4 L385.3 311.5 L395.3 307.7 L396.6 300 L402.9 299 L410.4 302.7 L412.9 310 L400.4 315 L392.8 321.5 L385.3 330 L377.8 337.8 L371.5 344 L378.9 347.7 L380.2 362.7 L373.9 367.7 L352.6 370.3 L350 377.8 L340 385.3 L345.2 392.5 L355.2 400 L359 406.3 L355.2 412.6 L347.7 420 L345.2 426.4 L340.2 432.6" fill="none" stroke="#B4B4B4" stroke-width="1.2" stroke-linejoin="round" stroke-linecap="round"/>
<path d="M285 271.4 L285 282.6 L287.6 292.7 L283.8 299 L287.9 305 L286.7 320 L280.4 321.3 L265.4 322.6 L255.3 327.6 L245.3 335 L250.3 332.6 L256.6 338.9 L257.8 352.7 L259.1 365.2 L261.6 380.2 L265.4 392.8 L266.6 401.5" fill="none" stroke="#B4B4B4" stroke-width="1.2" stroke-linejoin="round" stroke-linecap="round"/>
<path d="M412.9 302.7 L423 305 L433 311.5 L440.5 315 L442.8 332.7 L452.8 332.7 L461.6 331.4 L459.1 316.4 L470.4 316.4 L480.4 322.6 L481.7 345.2 L484.2 348" fill="none" stroke="#B4B4B4" stroke-width="1.2" stroke-linejoin="round" stroke-linecap="round"/>
<path d="M437.5 226 L446 229 L455 232 L462 236 L466 232 L470 227" fill="none" stroke="#B4B4B4" stroke-width="1.2" stroke-linejoin="round" stroke-linecap="round"/>
<path d="M35 140 L37.4 141.3 L39 143.7 L41.4 145 L43.3 146.9 L45.9 148 L47.9 149.9 L50 151.5 L50.7 154.3 L51.1 157.2 L52 160 L51.4 162.5 L52.3 165 L52.2 167.5 L51.4 170 L49.4 172.2 L48.3 175.1 L46.3 177.3 L45 180 L42.7 181.5 L40.1 181.7 L37.5 182.1 L35.2 183.6 L32.6 184 L29.9 184 L27.5 184.8 L25.3 186.6 L22.6 186.6 L20.1 188.9 L17 190" fill="none" stroke="#1414E6" stroke-width="1.1" stroke-linejoin="round" stroke-linecap="round"/>
<path d="M89 220 L91.9 219.9 L94.7 219.1 L97.1 217.2 L100 217 L101.8 215.1 L104.5 214.5 L106.6 212.9 L108.7 211.4 L110.5 209.5 L112.8 208.3 L115 206.5 L117.1 204.6 L119.1 202.7 L120.8 200.4 L123.2 198.8 L125.3 197 L126.7 194.9 L128.6 193.2 L130.5 191.4 L132 189.4 L133 187 L134.8 184.7 L136.4 182.4 L138 179.9 L140 177.8 L141.6 175.7 L143.6 174.2 L146 173.1 L147.8 171.4 L150 170 L152.4 169 L155.2 168.8 L157.5 167.4 L160 166.5 L162.7 166.1 L165.3 165.1 L168 165 L170.8 165.8 L173 167.8" fill="none" stroke="#1414E6" stroke-width="1.1" stroke-linejoin="round" stroke-linecap="round"/>
<path d="M173 167.8 L175 169.3 L176.5 171.4 L178.4 173.1 L180 175 L182.5 175.1 L185 175.2 L187.5 174.4 L190 175 L192.4 173.8 L195.1 174.4 L197.4 173 L200 172.8 L202.5 171.5 L205.4 171.4 L207.8 169.8 L210.6 169.2 L213 167.8 L215.5 167.8 L218 168 L220.5 167.8 L222.8 166.1 L225.6 165.5 L228.3 164.5 L230.6 162.8 L231 159.9 L231.7 157 L231.8 154 L234.8 153.4 L237.5 151.7 L240.6 151.5 L243.1 151.4 L245.6 150.6 L248 150 L248.4 147.4 L248.7 144.8 L250.4 142.6 L250.6 140 L251.4 137.6 L252.5 135.2 L253 132.7 L255.9 131 L258.3 128.7 L260.7 126.4 L259.2 124.3 L256.8 123.3 L255.2 121.3 L253 120 L251.4 117.9 L250.5 115.4 L248.9 113.2 L247 111.4 L245.2 109.2 L244 106.6 L242.9 104.1 L242 101.4 L238 99" fill="none" stroke="#1414E6" stroke-width="1.1" stroke-linejoin="round" stroke-linecap="round"/>
<path d="M173 167.8 L172.5 170.4 L171.8 173 L170.4 175.3 L169 177.7 L167.8 180.2 L166.5 182.6 L164.6 184.7 L163 187 L162.4 189.8 L162.6 192.5 L162.6 195.2 L163 198 L161.2 200.2 L158.8 201.8 L156.9 204 L154.9 206.1 L152.9 208.1 L150.4 209.6 L148.5 211.6 L145.8 212.5 L143.8 214.2 L141.7 215.9 L139.6 217.6 L137.8 219.6 L136 221.6 L133.8 223.1 L131.4 224.5 L129.3 226 L127.1 227.5 L125.3 229.6 L123.1 231.1 L122 233.7 L119.6 235 L117.8 237 L117.6 239.5 L117.8 242.1 L118.3 244.6 L117.8 247.2 L117.8 249.7 L119.6 251.9 L119.8 255 L121.1 257.4 L122.8 259.7 L124.2 261.7 L126 263.5 L126.8 266 L128.7 267.8 L130.3 269.7 L129.2 272.4 L128.6 275.2 L128.4 278.2 L127.8 281" fill="none" stroke="#1414E6" stroke-width="1.1" stroke-linejoin="round" stroke-linecap="round"/>
<path d="M220.5 167.8 L217.6 167.5 L216.2 169.9 L214.8 172.4 L213.5 174.9 L212.6 177.6 L212.1 180.8 L212.5 183.9 L213 187 L213.4 189.7 L215.5 191.8 L215.9 194.5 L216.8 197 L215.4 199.3 L215.1 202 L214 204.4 L214.3 207.2 L213 209.6 L210.9 211.1 L208.9 212.8 L206.5 213.8 L204.4 215.2 L202.7 217.3 L200.4 218.5 L198 219.6 L196.2 221.6 L193.6 222.7 L191.8 224.6 L190.3 227 L188 228.4 L186.8 231.2 L186.8 234.3 L185.5 237 L184.1 239.1 L183.4 241.7 L182.3 244 L180 245.6 L179.5 248.3 L178.3 250.5 L176.1 252.2 L175.4 254.7 L172.7 255 L170.5 256.6 L167.7 256.6 L165.4 258 L162.8 258.6 L160.4 259.7 L158.1 261.1 L155.2 261.2 L152.8 262.6 L150.1 263.3 L147.7 264.4 L145.5 266.2 L142.9 267" fill="none" stroke="#1414E6" stroke-width="1.1" stroke-linejoin="round" stroke-linecap="round"/>
<path d="M175.4 254.7 L177.7 256.6 L180.2 258.2 L183 259.4 L185.5 261 L187.7 262.2 L189.9 263.4 L191.4 265.7 L193.5 267 L195.5 268.5 L193.9 270.8 L193.2 273.6 L191.4 275.8 L190.5 278.5 L188 281" fill="none" stroke="#1414E6" stroke-width="1.1" stroke-linejoin="round" stroke-linecap="round"/>
<path d="M262.8 161.3 L264.3 164.3 L265.3 167.5 L266.8 169.8 L267.1 172.6 L268.9 174.8 L269.3 177.5 L270.3 180 L269.2 182.6 L268.4 185.3 L266.5 187.5 L265.9 190.3 L264.1 192.5 L262.8 195 L262.1 197.8 L260.8 200.3 L259.1 202.5 L257.3 204.8 L256.9 207.7 L255.2 210 L254 212.7 L252 215 L250.2 217.3 L249.1 220.1 L247.7 222.7 L246 224.9 L243.6 226.6 L242.8 229.5 L240.2 231 L239 233.6 L237.4 235.9 L235.2 237.7 L233.5 239.8 L231.2 241.2 L228.7 242.4 L227.1 244.7 L224.7 245.9 L222.7 247.7 L220.4 249.4 L218.5 251.5 L216.1 253.1 L214 255 L214.6 257.5 L214.6 260 L214.4 262.5 L214 265 L215.3 267.2 L217 269.1 L218.7 271 L219.8 273.3 L221.4 275.3" fill="none" stroke="#1414E6" stroke-width="1.1" stroke-linejoin="round" stroke-linecap="round"/>
<path d="M264 161.3 L266.2 162.9 L267.3 165.5 L270 166.6 L271.3 169 L273.8 170.3 L275.3 172.6 L277.9 173 L280.1 174.8 L282.9 174.5 L285.2 175.9 L287.8 176.4 L290.3 177.2 L292.8 178 L295.3 178.8 L297.7 180.6 L299.2 183.3 L301.6 185 L302.2 187.5 L302 190 L302.3 192.6 L301.9 195.1 L301.6 197.6 L300.9 200.2 L299.4 202.5 L299.3 205.2 L298.8 207.8 L297.8 210.3 L296.6 212.7 L295.2 215 L295.7 217.8 L294.2 220 L293.7 222.6 L292.8 225 L293.8 227.6 L295.3 230 L294.3 232.6 L292.6 234.9 L291.6 237.5 L290.3 240 L288.5 242 L286.5 243.9 L285.2 246.3 L284 248.8 L282.4 251 L280.3 252.8 L277.9 253.7 L276.1 255.7 L274.3 257.5 L271.6 258.1 L269.8 260 L267.8 261.5 L265.9 263.4 L264 265.4 L262.8 267.8" fill="none" stroke="#1414E6" stroke-width="1.1" stroke-linejoin="round" stroke-linecap="round"/>
<path d="M247.6 151.5 L250.1 152.9 L252.7 154.2 L255.4 155.3 L257.4 157.6 L260.5 158 L262.7 160 L265.2 159.4 L267.8 159.4 L270.1 157.7 L272.7 157.7 L274.8 156.1 L277 154.5 L278.5 152.2 L280.9 150.9 L283.3 149.6 L285.2 147.7 L287.2 146.1 L289.4 144.9 L290.9 142.7 L293 141.2 L295.2 140 L297.5 138.5 L300.2 138 L303 137.6 L305.3 136.1 L307.8 135 L310.3 135.4 L312.8 134.8 L315.3 135.3 L317.8 134.4 L320.3 135 L322.7 133.7 L325.4 133.2 L327.9 132.3 L330.3 130.9 L332.8 130 L335.1 128.3 L337.7 127.3 L340.2 126 L342.7 124.9 L345.4 124 L347.9 124.8 L350.5 124.2 L353 125 L355.2 126.8 L357.7 128.1 L360.4 129" fill="none" stroke="#1414E6" stroke-width="1.1" stroke-linejoin="round" stroke-linecap="round"/>
<path d="M285.2 147.7 L287.7 147.8 L290.2 147.6 L292.7 147.8 L295.2 147.7 L297.9 148.3 L300.1 150 L302.6 151 L305.3 151.5 L306.8 154.4 L309 156.9 L310.3 160 L312.8 161 L315.4 161.6 L317.8 162.8 L320.2 161.9 L322.9 162.3 L325.5 161.8 L327.7 159.9 L330.3 160 L333.4 159.3 L336.2 157.8 L339 156.5 L339.8 153.9 L340.7 151.4 L342.2 149.1 L343 146.5 L345.5 145.9 L348 145.8 L350.5 145.2 L352.8 144 L355.4 144 L358 144 L360.5 143.8 L363 143.4 L365.4 142.5 L367.8 141.3 L370.4 141.5 L373 141 L375.5 141.4 L377.9 142.7 L380.5 142 L383 142.3 L385.5 142.7 L387.2 144.8 L389.8 145.8 L391.7 147.7" fill="none" stroke="#1414E6" stroke-width="1.1" stroke-linejoin="round" stroke-linecap="round"/>
<path d="M301.6 183.8 L304.3 183 L307.1 182.4 L310 182.1 L312.6 180.7 L315.4 180 L317.9 179.2 L320.4 178.4 L322.8 177.1 L325.4 176.7 L328 176 L330.4 175 L332.9 175.7 L335.5 175.1 L338 175.7 L340.5 176.3 L343.3 177 L345.3 179.2 L347.9 180.3 L350.5 181.3 L353.2 181.5 L355.3 183.6 L358 183.8 L360.4 184.6 L363 184.4 L365.5 184.6 L368 184.1 L370.6 184.1 L373 185 L375.5 185.9 L378.2 186.1 L380.6 187.1 L383.1 188 L385.7 188.5 L388 190 L390.5 191.2 L393.1 192.5 L395.3 194.3 L398.1 195.1 L400.6 196.4 L403 197.5 L405.6 198.2 L408 199.3 L410.6 200 L411.1 202.5 L411.8 205 L411.9 207.6 L410.9 210 L410.6 212.6 L410.5 215.1 L410.6 217.7" fill="none" stroke="#1414E6" stroke-width="1.1" stroke-linejoin="round" stroke-linecap="round"/>
<path d="M433.2 216.4 L433.9 219.2 L434.1 222.1 L434.8 224.9 L435.7 227.7 L436.1 230.3 L436 232.8 L435 235.2 L434.4 237.7 L433.6 240.4 L431.3 242.4 L430.3 245 L429.4 247.7 L427.7 250.1 L426.2 252.7 L424.5 255.1 L423.2 257.8 L420.8 259.2 L418.1 259.3 L415.7 260.6 L412.7 259.8 L410.4 261.3 L408.3 263.3 L405.1 263.2 L403.2 265.8 L400.2 266 L397.8 267.6 L395.4 269.2 L392.9 270.3 L390 270.8 L388.2 273.5 L385.3 273.9 L383.2 275.9 L379.9 275.6 L377.8 277.5 L375.7 279.5 L372.8 280 L370 279.8 L367.5 280.7 L365.5 283.1 L362.8 283.3 L360.3 283.9 L358 285.4 L355.4 285.9 L352.7 286.2 L350.4 287.9 L347.6 287.7 L345.2 288.9 L342.9 290.4 L340.4 290.8 L337.5 290.2 L335.2 291.4 L332.7 291.9 L330.2 292.1 L327.7 292 L325.2 292.5 L322.7 292.7 L320.2 293.7 L317.9 295.1 L315 294.5 L312.3 294.8 L310 296.4 L307 295.1 L303.8 295.4 L300.7 295.6 L297.6 295 L294.6 295.9 L291.4 295.9 L288.4 296.5 L285.4 297.5 L283.4 300.5 L280.4 302.5 L278 303.5 L275.5 303.8 L272.9 304 L270.3 303.9 L267.9 305 L265.4 305.9 L263.2 307.8 L260.1 307.2 L257.8 308.8 L255.4 310.2 L252.8 311.3 L250.5 313 L247.8 313.8 L245.4 315.2 L242.9 316.5 L240.3 317.6 L237.6 318.3 L235.7 320.8 L232.8 321.3 L230.3 322.4 L228.1 324.3 L225.3 325 L224.3 328.1 L224 331.4" fill="none" stroke="#1414E6" stroke-width="1.1" stroke-linejoin="round" stroke-linecap="round"/>
<path d="M322.7 292.7 L323.7 295.1 L323.5 297.7 L324 300.2 L324.3 302.7 L325.5 305 L326.3 307.4 L326.5 310 L326.9 312.4 L326.9 315 L326.1 317.5 L326.8 320 L328 322.4 L327.7 325.1 L328.9 327.4 L329.2 330 L329.3 332.6 L329.4 336.3 L329.3 340 L326.1 340.7 L323.3 342.5 L320.5 344 L321 347 L320.1 349.9 L319.2 352.7 L319 357" fill="none" stroke="#1414E6" stroke-width="1.1" stroke-linejoin="round" stroke-linecap="round"/>
<path d="M329.3 341.4 L331.9 342.3 L333.4 344.8 L335.6 346.3 L338 347.6 L340.2 349.4 L343.2 349.2 L345.7 350.2 L347.9 352.1 L350.6 352.7 L352.9 354.5 L355.8 355.5 L357.9 357.7 L360.6 359 L362.9 360.1 L364.7 362 L367.6 362.1 L369.4 364 L368.7 367.2 L366.9 370 L364.6 372.1 L363.8 375.3 L361.9 377.7 L363.2 380.5 L363 383.7 L364.4 386.5 L366.4 388.9 L369.2 390.4 L370.9 393.2 L373.1 395.3 L374.7 397.7 L377.4 399.2 L378.5 402 L380.6 404 L383.2 405.1 L385 407.1 L386.9 409" fill="none" stroke="#1414E6" stroke-width="1.1" stroke-linejoin="round" stroke-linecap="round"/>
<path d="M423.2 257.8 L421.8 260.1 L423.2 262.9 L421.3 265.1 L422 267.8 L419.9 270 L420.4 272.6 L422 274.9 L421 277.8 L422 280.2 L423 282.6 L421.1 284.8 L419.6 287.2 L419.7 290.4 L418 292.7 L417 295.3 L415.1 297.5 L414.6 300.4 L413 302.7 L412.8 305.3 L412.2 307.8 L410.4 310 L410.4 312.7 L407.6 313.3 L405.1 314.7 L403.1 316.9 L400.4 317.7 L397.4 319.6 L395.7 322.6 L397.3 325.1 L399.5 327.2 L400.7 330 L402.8 331.6 L405 333.2 L407.5 334.3 L409 336.8 L411.3 338.1 L413.2 340 L415.2 341.8 L416.9 344 L419.3 345.2 L421.7 346.5 L423.2 348.9 L425.8 350 L427.3 352.7 L430.2 353.8 L431.7 356.4 L434.5 357.7 L435.1 360.4 L434.4 362.8 L433.3 365.2 L431.1 367.2 L427.8 367.4 L425.6 369.3 L423 370.7 L420.9 372.9 L418.2 374 L416.7 376.2 L414.6 378 L414.4 381.2 L412.8 383.4 L410.7 385.2 L411.1 387.9 L409.8 390.3 L408.5 392.6 L408.6 395.3 L408.2 397.8 L409.2 400.2 L409.9 402.8 L410.7 405.3 L407.9 406.3 L404.8 405.2 L402 406.5" fill="none" stroke="#1414E6" stroke-width="1.1" stroke-linejoin="round" stroke-linecap="round"/>
<path d="M434.5 357.7 L437.4 359.4 L440 361.4 L442.6 361.4 L445.2 361.3 L447.8 361.4 L450.4 361.5 L452.9 360.5 L455.5 360 L457.8 358.7 L460.5 358.3 L462.7 356.7 L465.4 356.5 L467.8 354.8 L470.3 353.3 L472.6 351.6 L475.6 350.8 L477.9 349 L481.7 346.4" fill="none" stroke="#1414E6" stroke-width="1.1" stroke-linejoin="round" stroke-linecap="round"/>
<path d="M359.2 250.3 L361.4 249.1 L363.8 248.1 L366.1 247 L368 245.2 L370.4 243.4 L373.2 242.5 L375.7 240.9 L378.2 239.4 L380.6 237.7 L382.9 236.2 L385.3 235.1 L388 234.5 L390.6 234 L393 232.7 L394.8 230.9 L397 229.7 L398.9 228 L401.4 227.1 L403.1 225.2 L405.9 224.5 L408.1 222.7 L410.7 225.1 L413.1 227.7 L415.8 227.8 L418 225.9 L420.8 226.2 L423.2 225.2 L425.9 224.4 L428 222.3 L430.8 221.7 L433.2 220.2" fill="none" stroke="#1414E6" stroke-width="1.1" stroke-linejoin="round" stroke-linecap="round"/>
<path d="M325.2 417.6 L327.1 417 L327.4 419.5 L329.3 418.8 L330.8 418.9 L331.5 420.7 L332.7 421.3 L334 421.9 L335.2 422.6 L336.4 423.4 L338 423.6 L339.1 424.5 L338.9 426.8 L341.1 426.5 L341.1 428.6 L342.7 428.9 L343.2 430.8 L344.3 431.9 L345.4 433 L348.3 431.3 L349.6 432.1 L350.2 433.9 L351.2 435.2 L352.6 434.8 L354.3 433.6 L355.1 435.9 L356.1 437.1 L357.4 437.2 L359.3 434.9 L360.3 436.4 L361.2 435.1 L362 433.4 L364.8 436.9 L364.9 433.4 L366.9 435 L367.9 433.7 L369.2 433.5 L370.3 432.6 L371 433.9 L370.8 435.9 L372.4 436.5 L374.4 437 L375.9 437.8 L375.3 440 L376.1 441.2 L375.1 443.5 L378.8 443 L377.5 445.5 L378.4 446.6 L380.9 446.9 L380.3 448.9 L382.3 448.8 L382.3 451.5 L384.2 451.5 L385.3 452.7 L385.8 451.4 L386.9 450.5 L386.4 448.5 L389.3 449.1 L389.8 447.7 L390.3 446.4 L391 447.5 L392.5 448.1 L391.7 450.4 L392.5 451.5 L394.3 451.8 L395.3 452.7 L397 451.1 L398.4 451.5 L399.8 451.7 L401.3 451.5 L402.4 454.2 L403.9 453.9 L405.4 453.9 L407 452.9 L407.8 456.2 L409.5 455.3 L410.7 456.3 L412.1 456.7 L413.6 456.3 L415.1 456 L416.1 458.2 L417.9 456.4 L419.8 455.4 L420.1 458.2 L421 459.5 L422.9 458.4 L423.6 460.3 L425.9 458.3 L426.8 459.7 L428.3 459.7 L429.3 460.7 L430.1 462.5 L432.3 460.7 L432.9 462.7 L433.8 461.3 L436.3 462.3 L436.2 459.5 L437.1 458 L440.4 460.4 L440.5 457.7 L441.8 457.5 L442.3 454.9 L444.3 456.7 L445 454.6 L446.3 454.2 L448 455.2 L449.3 456.5 L450.9 456.3 L452.6 455.6 L454 456.2 L455.5 456.4" fill="none" stroke="#1414E6" stroke-width="1.1" stroke-linejoin="round" stroke-linecap="round"/>
<path d="M10.5 153.8 L12.7 152.8 L14.5 151.3 L16.5 150.1 L18.8 149.4 L20.5 147.7 L22.7 146.9 L24.8 145.8 L26.9 144.7 L28.7 143.2 L31 142.4 L33 141.1 L35 140 L37.1 139.2 L38.6 137.4 L41 137 L42.5 135.3 L44.8 134.7 L46.5 133.3 L48.6 132.5 L50.2 130.8 L52.2 129.8 L54 128.5 L56.3 127.9 L58.1 126.6 L60 125.5 L61.7 124 L63.5 122.7 L65.3 121.4 L67.2 120.2 L69.3 119.2 L71 117.8 L73 116.8 L74.6 115 L76.8 114.3 L78.7 113.2 L80.4 111.7 L82.3 110.4 L84 109 L86.5 108.4 L88.7 106.9 L91.2 106.3 L93.5 105 L96 104.5 L96.3 101.8 L96 99 L99 98.5 L102 98 L102.6 100.5 L102.5 103 L104.7 102.3 L107 101.9 L109.2 101 L111.3 100 L113.7 100 L115.7 98.6 L118.1 98.6 L120.4 98.1 L122.5 97 L124 101 L123.1 103.1 L122.3 105.2 L122 107.5 L122.5 110.8 L123 114 L124.2 115.9 L125 118 L126 120 L127.9 121.4 L130 122.5 L132.2 122.7 L134.4 122.4 L136.6 122.9 L138.8 122.1 L141 122.5 L141.3 119.7 L141.3 116.8 L142 114 L144.7 113.4 L147.5 113 L150.2 112.4 L152.5 111 L155.1 111.9 L157.3 113.7 L160 114.5 L162.4 115.6 L165 116.2 L167.6 116.4 L170 117.5 L172.7 118.3 L175.3 119.3 L178 120 L178.6 122.5 L178.7 125 L179.1 127.5 L179 130 L181.9 130.8 L185 131 L187.9 132.1 L191 132.5 L192.5 129.5 L195 129.7 L197.5 129.4 L200 129 L202.5 127.6 L204.8 125.7 L207.5 124.5 L210 124.3 L212.5 124.4 L215 124 L217 122.7 L218.4 120.7 L220.2 119.2 L222.1 117.7 L224.4 116.8 L226 115 L227.2 113 L228.9 111.4 L230.5 109.7 L232.3 108.2 L233.3 106 L235 104.5 L236.2 101.4 L235.6 99.2 L235.5 97 L237.8 97.1 L240 96.4 L242.3 96.4 L244.6 96.1 L246.9 96.8 L249.1 96.1 L251.4 96.2 L252.1 100 L254.6 100.2 L257.2 100.4 L259.7 100.7 L262.3 99.7 L264.5 98 L264 94.9 L263.1 91.8 L261.5 89.3 L259.7 86.9 L258.6 84.2 L257.6 81.4 L259.8 79.9 L262.4 78.9 L264.5 77.3 L266.7 76 L269.1 75.5 L271.4 74.5 L273.9 74 L276.4 73.6 L279 73.5 L280.4 75.9 L279.5 79 L278.6 82.1 L279.7 86 L282.4 85 L285.2 84.6 L287.7 85.1 L290.3 85.2 L292.8 86 L294.2 83.6 L296.3 81.8 L298.1 79.3 L300.4 77.3 L301.7 75.2 L303.8 73.7 L305.1 71.6 L306.7 69.7 L310.1 68.6 L313.2 69.7 L316.3 70.4 L317.9 72.3 L319.8 73.8 L320 76.6 L319.5 79.3 L317.7 82.8 L319.1 85.6 L316.1 84.5 L312.9 84.2 L309.8 84.9 L310.1 87.6 L314.3 88.7 L316.7 88 L319.1 87.6 L322.2 87.9 L325.3 88.3 L326.7 86.2 L327.8 88.3 L328.8 90.4 L330.8 92.5 L333 90.5 L335 88.3 L336.6 86.6 L337.5 84.5 L339.1 82.8 L340.2 80.8 L340.8 78.6 L341.5 76.5 L342.6 74.5 L345.3 72.2 L347.4 74.5 L351.5 75.9 L352.2 78.4 L353.6 80.7 L354 82.9 L355 84.9 L353.3 87.1 L352.2 89.7 L350.2 93.1 L351.9 94.9 L353.1 97.1 L355 98.7 L356.6 100.9 L358.5 102.8 L358.7 105.6 L359.8 108.3 L362.1 108.3 L364.4 108.3 L366.7 107.7 L369.5 109.4 L372.3 111.1 L372.5 113.4 L372.9 115.7 L373.6 118 L376.1 117.9 L378.6 117.8 L381 117.6 L383.5 117.9 L386 117.5 L388.3 117.1 L390.6 117.1 L392.9 116.7 L395.2 116.5 L397.5 116 L399.3 114.6 L401 113.2 L403.2 112.4 L405 111 L407.6 111.4 L410 112.5 L411.6 114.3 L412.8 116.4 L414.8 117.9 L416 120 L416.4 123.1 L417.5 126 L419.2 127.4 L421 128.6 L422.8 130 L424.9 130.8 L426.7 132.1 L428.1 133.9 L430 135 L432.5 135.3 L435 135.5 L437.5 135.9 L440 135.6 L442.5 136 L444.5 138.3 L446 141 L449.3 141.2 L452.5 140.5 L454.3 142.5 L455.5 145 L454 146.7 L452.4 148.3 L451 150 L451.4 152.6 L452.5 155 L451.1 156.9 L449 158.2 L447.5 160 L446.1 162.7 L444 165 L444.5 168 L445 171 L443.9 173 L442.7 174.9 L442.4 177.2 L440.8 178.9 L440 181 L441.5 183.4 L442.5 186 L441.3 188 L439.5 189.8 L438.3 191.8 L437.6 194.2 L436 196 L434.8 197.9 L433.3 199.5 L431.3 200.7 L430 202.5 L430.1 205.1 L429.1 207.5 L429 210 L430.5 212.2 L432.1 214.2 L434 216 L433.6 219.2 L434 222.5 L435.7 224.3 L437.5 226 L439.8 225.1 L441.9 223.7 L444 222.5 L447 223.4 L450 224 L452.6 224.6 L455 226 L457.3 225.8 L459.5 225.9 L461.7 225.1 L464 225 L467 225.7 L470 226 L472.5 226.1 L475 226.7 L477.5 227.2 L480 227.5 L481.8 230.2 L484 232.5 L486.9 232.8 L489.7 233.5 L492.5 234 L494 235.8 L495 238 L496.1 240.2 L497.8 241.9 L499 244 L499.7 246.2 L500.7 248.3 L501.9 250.3 L502.5 252.5 L505 253.2 L507.6 253.2 L510 254 L512 255.1 L514 256 L512.1 257.3 L510.9 259.3 L509.1 260.7 L507.7 262.5 L506 264 L504.7 265.9 L503.9 268.1 L502.5 270 L503.7 273 L505 276 L506.5 277.8 L508.5 279.2 L510 281 L512.5 280.7 L515 280.5 L517.5 280.3 L520 280.5 L522.4 282.4 L525 284 L525.6 286.4 L526.6 288.7 L527.5 291 L527.9 293.2 L528.4 295.5 L528.9 297.7 L529 300 L527.6 302.4 L527 305 L526 307.5 L527.5 309.2 L529.4 310.6 L531.1 312.2 L532.5 314 L534.5 317.5 L532.5 319.6 L530 321 L527.6 321.9 L525 322.6 L522.5 323.2 L520 324 L518.2 326.3 L516.5 328.6 L515 331 L512.6 332 L510.4 333.3 L508.2 334.6 L506 336 L504.6 338 L503.6 340.3 L502.5 342.5 L503.4 345 L503.8 347.6 L505 350 L502.3 351.7 L500 354 L499.6 357.3 L499 360.5 L496 359.5 L495.8 357.2 L495 355 L492.7 354.8 L490.5 354.3 L488.2 354.7 L486 354 L484.3 351.9 L482.5 350 L480.2 350.6 L478.3 352 L476 352.7 L474 354 L473.1 357 L472.5 360 L471.6 362.1 L470.3 364 L468.9 365.7 L467.5 367.5 L465.4 368.4 L463.7 369.9 L461.8 371.2 L460 372.5 L460 375 L460.8 377.5 L461 380 L460 382.1 L458.5 383.8 L456.9 385.4 L456 387.5 L456.3 390.8 L456 394 L454.3 395.7 L452.8 397.5 L451 399 L450.1 402 L449 405 L448 407.7 L446 409.8 L445 412.5 L446.8 414 L448.1 416 L450 417.5 L448.5 419.4 L446.7 420.9 L445 422.5 L445.8 424.9 L445.6 427.5 L446 430 L448.5 432 L451 434 L452.6 436.5 L454 439 L455.7 441 L456.9 443.3 L458.8 445.1 L460 447.5 L461.8 449 L464 449.8 L466 451 L465.2 453.6 L464.7 456.3 L464 459 L466.7 459.6 L469 461 L468.9 463.7 L467.8 466.3 L467.5 469 L465.9 470.5 L464.4 472.1 L462.6 473.5 L461 475 L462.7 477.7 L465 480 L463.3 482 L461.7 484 L460 486 L457 484.9 L454 484 L451.8 485 L450.2 486.9 L447.9 487.6 L446 489 L444 487.9 L442.1 486.8 L440 486 L437.6 486.8 L434.9 486.7 L432.5 487.5 L431 489.4 L430.2 491.6 L428.4 493.3 L427.5 495.5 L425.5 494.3 L424 492.5 L421.3 493.3 L418.8 494.5 L416 495 L413.8 496.1 L411.3 496.5 L409 497.5 L408.2 494.9 L407 492.5 L405.8 490.1 L405 487.5 L404.4 485.4 L403.7 483.3 L403 481.2 L402.5 479 L400.9 477.3 L399.5 475.4 L397.9 473.7 L396.2 472 L395 470 L392.5 471.3 L390 472.5 L387.4 471.9 L385 471 L386.5 468.1 L387.5 465 L386.3 462.9 L384.7 461.3 L382.9 459.7 L381.5 457.8 L380 456 L377.8 455.8 L375.5 456.2 L373.2 455.7 L371 456 L368.3 455.4 L366 454 L364.2 452.3 L362 451.3 L360 450 L359 447.6 L357.6 445.5 L356.5 443.1 L355 441 L352.5 440.6 L349.9 440.4 L347.4 439.8 L345 439 L343.1 437.2 L341.3 435.3 L339 434 L336.7 434.6 L334.4 434.8 L332.1 435 L329.8 435.8 L327.5 436 L324.9 435.2 L322.5 434 L323.6 431.4 L323.8 428.6 L325 426 L324 423.7 L323.4 421.3 L322.5 419 L323.7 416.3 L325.2 413.8 L326 411 L324.8 408.7 L323.6 406.4 L322.5 404 L320.2 403 L318.4 401.3 L315.9 400.6 L314 399 L314.5 396.6 L315.6 394.5 L316.9 392.3 L317.5 390 L317.7 387.5 L318.2 385 L318.3 382.4 L319 380 L318.8 377.5 L319.4 375 L319 372.5 L321.6 371.5 L324 370 L324.1 367.7 L325.4 365.6 L325.5 363.2 L326 361 L323.8 360.4 L321.7 359.4 L319.8 358 L317.5 357.5 L315.8 359.1 L313.5 360.1 L311.5 361.4 L309.6 362.9 L307.8 364.4 L306 366 L304.3 367.8 L303.5 370.2 L301.7 371.9 L300.1 373.8 L299 376 L299.1 378.3 L299.7 380.5 L299.6 382.8 L299.6 385.1 L299.8 387.4 L299.7 389.7 L300 392 L297.5 392.6 L295.1 393.1 L292.5 392.9 L289.9 392.9 L287.5 393.7 L285 394 L283.1 395.3 L281.3 396.7 L279.5 398.1 L277.6 399.4 L276 401 L273.6 401.9 L271 401.8 L268.5 402.6 L266 403 L263.1 402.4 L260.4 401.4 L257.5 401 L254.9 400.8 L252.6 399.6 L250.1 399.2 L247.5 399 L245 398.8 L242.5 398.8 L240 399.5 L237.5 399.2 L235 399.1 L232.5 399.5 L230 398 L227.6 396.4 L225 395 L224.2 392.6 L224 390 L225 387.8 L225.4 385.3 L226.6 383.3 L227.5 381 L229.5 379.7 L231.7 379.1 L233.7 378.1 L236 377.5 L234.7 375.4 L233.4 373.3 L232.5 371 L231.8 368.6 L230.9 366.3 L230 364 L227.6 362.8 L225.1 361.7 L222.5 361 L223.4 358.9 L224 356.6 L224.6 354.4 L225.5 352.3 L226 350 L226.4 347.5 L226.9 345 L227.5 342.5 L229.3 341.2 L231 339.6 L233 338.5 L235 337.5 L234.6 335 L234 332.5 L231.6 334.3 L229 336 L226.5 335.1 L224 334 L222.7 331.5 L221.7 328.8 L221 326 L219.2 324.1 L217.2 322.5 L215 321 L213.4 319.5 L212.3 317.5 L210.5 316.1 L209 314.5 L205.7 314.5 L202.5 315 L200.3 316.2 L197.8 316.4 L195.6 317.7 L193.4 318.9 L191 319.5 L188.7 319 L186.5 318.1 L184.2 317.2 L182.3 315.7 L180 315 L177.8 314.9 L175.6 315.6 L173.4 315.8 L171.2 315.4 L169 316 L168.5 318.3 L167.2 320.4 L166.5 322.7 L166 325 L164.2 322.5 L162.5 320 L161.3 317.5 L160.1 315 L159 312.5 L159.1 310 L159.7 307.5 L159.9 305 L160 302.5 L160.1 299.8 L159 297.2 L159 294.5 L157.6 292.7 L156.5 290.7 L155.5 288.7 L154 287 L152.1 285.3 L149.8 284.1 L147.5 283 L145 283.6 L142.5 283.3 L140 284 L137.5 284 L138.2 281.5 L139 279 L136.4 278.4 L134 277 L132.1 278.8 L129.7 280.1 L127.5 281.5 L124.9 281.7 L122.5 282.7 L120 283 L117.9 282.1 L116.3 280.4 L114.3 279.4 L112.5 278 L110.9 276.1 L109.8 273.9 L109 271.5 L107.5 269.5 L107.9 267 L107.5 264.5 L107.5 262 L107.5 259.5 L107 257 L106 254.5 L105.3 252 L104.9 249.4 L104 247 L104.4 244.8 L104.8 242.5 L104.8 240.3 L105 238 L102.1 236.7 L99 236 L98 233.6 L96.3 231.6 L95.4 229.2 L94 227 L92.4 224.6 L90.4 222.5 L89 220 L85.8 220.7 L82.5 221 L80 222.3 L77.3 223 L75 224.5 L72.9 225.5 L70.4 225.3 L68.1 226 L66 227 L64.4 229.1 L62.6 230.9 L61 233 L60 235.4 L59 237.9 L57.5 240 L55.4 238.3 L54 236 L51.8 235.4 L49.5 235.5 L47.3 234.9 L45 234.5 L43.6 232.7 L42.1 231 L41.2 228.9 L40 227 L38 225.4 L36.3 223.3 L34 222 L32.7 219.5 L31.7 216.8 L30 214.5 L27.7 214 L25.6 213 L23.3 212.6 L21 212 L19.3 209.7 L18.7 206.8 L17 204.5 L17.4 201.3 L17.5 198 L17.1 195.2 L16.4 192.3 L16 189.5 L17.5 186 L16.8 183.8 L17.3 181.5 L16.4 179.3 L16.1 177 L16.5 174.7 L16 172.5 L15.4 170 L15.1 167.5 L14.6 165 L14.4 162.5 L14 160 L13.1 157.8 L11.5 155.9Z" fill="none" stroke="#222" stroke-width="1.9" stroke-linejoin="round"/>
<path d="M331.5 79.3 L334.7 79 L334.3 82.1 L332.2 84.9 L329.7 84.6 L329.4 81.8 Z" fill="#111" stroke="#111" stroke-width="0.8" stroke-linejoin="round"/>
</g>
<g transform="translate(640,0)">
<g clip-path="url(#be)">
<rect x="0" y="60" width="560" height="447" fill="#F3F3E6"/>
<path fill="#E0E0E0" d="M280 60C286.1 66.7 283.1 82.9 286.5 90C289.9 97.1 296.3 99.7 300.3 102.6C304.3 105.5 307 107.8 310.3 107.6C313.6 107.4 317.1 101.1 320.3 101.4C323.5 101.7 328 105.5 329.5 109.5C331 113.5 327.9 121.1 329.5 125.3C331.1 129.5 336.9 131 339 134.7C341.1 138.4 340.4 143.7 342 147.4C343.6 151.1 347.8 153.7 348.4 156.8C348.9 160 347.4 163.1 345.3 166.3C343.2 169.5 339.5 172.6 335.8 175.8C332.1 179 327.2 182.2 323.2 185.3C319.2 188.5 315.2 190.5 312 194.7C308.8 198.9 307.1 205.8 304.2 210.5C301.3 215.2 297.6 218.8 294.7 223C291.8 227.2 289.4 231.6 286.8 235.8C284.2 240 281.8 244.5 279 248.4C276.2 252.3 272.8 255.9 270 259.5C267.2 263.1 263.7 265.4 262 270C260.3 274.6 259.3 282 260 287C260.7 292 263.3 296.2 266 300C268.7 303.8 273.2 305.8 276 310C278.8 314.2 280.5 320 282.9 325C285.3 330 289.6 335 290.4 340C291.2 345 289.6 350.4 287.9 355C286.2 359.6 285 364.7 280.4 367.7C275.8 370.7 267.1 372.1 260.4 373C253.7 373.9 246.7 371.8 240 373C233.3 374.2 243.3 387.2 220 380C196.7 372.8 136.7 351.7 100 330C63.3 308.3 16.7 288.3 0 250C-16.7 211.7 -16.7 131.7 0 100C16.7 68.3 58.3 68.3 100 60C141.7 51.7 220 50 250 50C280 50 273.9 53.3 280 60Z"/>
<path fill="#E0E0E0" d="M215 390C218.3 386.5 229.2 389.5 235 389C240.8 388.5 244.2 387.3 250 387C255.8 386.7 263.3 387.3 270 387C276.7 386.7 284.2 385.8 290 385C295.8 384.2 302.5 377.8 305 382C307.5 386.2 320 405.3 305 410C290 414.7 230 413.3 215 410C200 406.7 211.7 393.5 215 390Z"/>
<path fill="#E0E0E0" d="M305 383C307.1 380.5 312.6 383.8 317.6 385C322.6 386.2 329.4 387.1 335.2 390C341 392.9 347.7 398.4 352.7 402.6C357.7 406.8 360.7 411.7 365.3 415C369.9 418.3 374.5 420.7 380.3 422.6C386.1 424.5 393.7 426 400.4 426.4C407.1 426.8 414.6 426.1 420.4 425C426.2 423.9 431.2 422.1 435.4 420C439.6 417.9 443 415.5 445.5 412.6C448 409.7 448.4 406.4 450.5 402.6C452.6 398.8 453.1 390.4 458 390C462.9 389.6 476.3 380.8 480 400C483.7 419.2 493.3 487.5 480 505C466.7 522.5 426.7 514.2 400 505C373.3 495.8 335.8 467.5 320 450C304.2 432.5 307.5 411.2 305 400C302.5 388.8 302.9 385.5 305 383Z"/>
<path fill="#E0E0E0" d="M450.3 270C448.2 272.9 443.2 275.8 440.3 280C437.4 284.2 434.5 290 432.8 295C431.1 300 431.1 305 430.3 310C429.5 315 428.2 319.6 427.8 325C427.4 330.4 426.1 338.1 427.8 342.7C429.5 347.3 434.1 350.6 437.8 352.7C441.6 354.8 446.5 355.4 450.3 355C454.1 354.6 456.6 351.2 460.4 350C464.2 348.8 469.6 348.5 472.9 347.7C476.2 346.9 477.5 344.3 480.4 345C483.2 345.7 486.7 349.2 490 352C493.3 354.8 496.7 362.3 500 362C503.3 361.7 502.5 355.3 510 350C517.5 344.7 539.2 341.7 545 330C550.8 318.3 549.2 291.3 545 280C540.8 268.7 525 267 520 262C515 257 519.1 252.6 515 250C510.9 247.4 500.7 246.9 495.4 246.5C490.1 246.1 488 246.6 483 247.7C478 248.8 470.4 250.3 465.4 252.8C460.4 255.3 455.3 259.9 452.8 262.8C450.3 265.7 452.4 267.1 450.3 270Z"/>
<path fill="#E0E0E0" d="M462 368C464.5 365.3 467.3 364 470 362C472.7 360 477.7 354.3 478 356C478.3 357.7 474.3 367.2 472 372C469.7 376.8 466.3 380.7 464 385C461.7 389.3 460.2 396.8 458 398C455.8 399.2 451.5 395.3 451 392C450.5 388.7 453.2 382 455 378C456.8 374 459.5 370.7 462 368Z"/>
<path fill="#E0E0E0" d="M409.5 166C410 164.3 412 163.7 413 164C414 164.3 415.3 166.2 415.5 168C415.7 169.8 414.9 174 414 175C413.1 176 410.8 175.5 410 174C409.2 172.5 409 167.7 409.5 166Z"/>
<path fill="#C4C4C4" d="M262 60C289.7 62.3 264.2 70 266 74C267.8 78 270.8 81.2 273 84C275.2 86.8 277.3 88.8 279 91C280.7 93.2 281.6 93.8 283 97C284.4 100.2 287.3 105.3 287.7 110C288.1 114.7 286.9 120.8 285.2 125C283.5 129.2 279.2 132.2 277.7 135C276.2 137.8 274.8 139.9 276 142C277.2 144.1 281.1 146.1 285.2 147.7C289.2 149.3 295 150.5 300.3 151.5C305.6 152.5 311.9 152.8 316.8 153.7C321.7 154.6 326.6 154.7 329.5 156.8C332.4 158.9 334.7 162.6 334.2 166.3C333.7 170 330.2 175.3 326.3 179C322.4 182.7 314.7 185.8 310.5 188.4C306.3 191 303.1 191.5 301 194.7C298.9 197.9 300 203.7 297.9 207.4C295.8 211.1 291 213.1 288.4 216.8C285.8 220.5 284.1 225.3 282 229.5C279.9 233.7 278.9 238.3 275.8 242C272.7 245.7 267.9 249.1 263.2 251.6C258.5 254.1 252.1 255.8 247.4 257C242.7 258.2 237.6 257.2 235.2 259C232.8 260.8 233.1 265.1 232.7 267.8C232.3 270.5 235.4 272 233 275C230.6 278 223.4 283.2 218 286C212.6 288.8 204.8 290.3 200.5 292C196.2 293.7 193.4 293.8 192 296C190.6 298.2 193.2 302.2 192 305C190.8 307.8 188.7 311.2 185 313C181.3 314.8 174.5 314.8 170 316C165.5 317.2 161.3 321 158 320C154.7 319 159.7 313.3 150 310C140.3 306.7 125 310 100 300C75 290 16.7 283.3 0 250C-16.7 216.7 -16.7 131.7 0 100C16.7 68.3 56.3 66.7 100 60C143.7 53.3 234.3 57.7 262 60Z"/>
<path fill="#C4C4C4" d="M222 396C225.8 393 237.8 394.3 245 394C252.2 393.7 258.3 394.3 265 394C271.7 393.7 278.8 392.8 285 392C291.2 391.2 298.8 385.7 302 389C305.2 392.3 317.3 408.2 304 412C290.7 415.8 235.7 414.7 222 412C208.3 409.3 218.2 399 222 396Z"/>
<path fill="#C4C4C4" d="M305 391C306.9 389.6 311.8 390.8 316.4 391.3C321 391.8 327.5 391.9 332.7 393.8C337.9 395.7 343.7 399.5 347.7 402.6C351.7 405.7 354.4 409.3 356.5 412.6C358.6 415.9 357.6 419.9 360.3 422.6C363 425.3 369.1 428.5 372.8 428.9C376.6 429.3 378.2 424.8 382.8 425C387.4 425.2 394.1 429.2 400.4 430C406.7 430.8 414.6 430.6 420.4 430C426.2 429.4 430.8 428.4 435.4 426.4C440 424.4 440.6 417.4 448 418C455.4 418.6 474.7 415.5 480 430C485.3 444.5 493.3 492.5 480 505C466.7 517.5 426.7 514.2 400 505C373.3 495.8 335.8 467.5 320 450C304.2 432.5 307.5 409.8 305 400C302.5 390.2 303.1 392.4 305 391Z"/>
<path fill="#C4C4C4" d="M446.2 304.6C445.8 301.4 448.3 297.2 450.4 293.5C452.5 289.8 456.9 285.7 458.7 282.5C460.5 279.3 458.6 276.5 461.4 274.2C464.1 271.9 471.5 271 475.2 268.7C478.9 266.4 480.7 262.6 483.5 260.4C486.3 258.2 487.7 256.2 491.8 255.4C495.9 254.6 503.7 255.3 508.4 255.4C513.1 255.5 513.9 252.7 520 256C526.1 259.3 540.8 264.3 545 275C549.2 285.7 549.2 310 545 320C540.8 330 527 331.7 520 335C513 338.3 506.2 340.4 503 340C499.8 339.6 502.1 335.1 500.5 332.7C498.9 330.2 495.8 325.9 493.2 325.3C490.6 324.8 486.7 327.3 484.9 329.4C483.1 331.5 483.8 336.1 482.2 337.7C480.6 339.3 477.7 340 475.2 339.1C472.7 338.2 469.3 335.6 467 332.2C464.7 328.8 463.7 321.6 461.4 318.4C459.1 315.2 455.6 315.2 453.1 312.9C450.6 310.6 446.6 307.8 446.2 304.6Z"/>
<path fill="#C4C4C4" d="M438 337C438.8 335.3 442.5 333.3 445 333C447.5 332.7 451.3 333.7 453 335C454.7 336.3 455.8 339.5 455 341C454.2 342.5 450.5 343.7 448 344C445.5 344.3 441.7 344.2 440 343C438.3 341.8 437.2 338.7 438 337Z"/>
<path fill="#C4C4C4" d="M264 352C265 350.3 268 349 270 349C272 349 275 350.3 276 352C277 353.7 277 357.3 276 359C275 360.7 272 362 270 362C268 362 265 360.7 264 359C263 357.3 263 353.7 264 352Z"/>
<path fill="#E0E0E0" d="M13.8 157.7C19.2 156.5 25.9 156 32.6 152.7C39.3 149.4 46.8 140.8 53.9 137.7C61 134.6 69.2 133.6 75.2 134C81.2 134.4 85.2 138.3 90.2 140C95.2 141.7 101.1 142.7 105.3 144C109.5 145.3 112.8 145 115.3 147.7C117.8 150.4 121.1 157.1 120.3 160C119.5 162.9 114.5 163.7 110.3 165C106.1 166.3 99.4 165.7 95.2 167.8C91 169.9 87.3 174.7 85.2 177.8C83.1 180.9 83.9 183.7 82.7 186.6C81.5 189.5 79.3 191.1 78 195C76.7 198.9 76 205 75 210C74 215 74.5 220 72 225C69.5 230 67 237.5 60 240C53 242.5 40 246.7 30 240C20 233.3 5 213.3 0 200C-5 186.7 -2.3 167.1 0 160C2.3 152.9 8.4 158.9 13.8 157.7Z"/>
<path fill="#E0E0E0" d="M148 117.5C150.9 114.8 156.2 113.2 160.4 114C164.6 114.8 170.7 119.5 173 122.6C175.3 125.7 175.9 129.3 174.2 132.6C172.5 135.9 166.1 139.7 163 142.6C159.9 145.5 157.5 147.5 155.4 150C153.3 152.5 152.7 156.5 150.4 157.6C148.1 158.7 143.3 158.5 141.6 156.4C139.9 154.3 140.2 149.4 140.4 145C140.6 140.6 141.6 134.6 142.9 130C144.2 125.4 145.1 120.2 148 117.5Z"/>
<path fill="#E0E0E0" d="M130.3 177.7C132 176.7 137.1 183.2 140.4 184C143.8 184.8 147.1 182.3 150.4 182.7C153.7 183.1 157.9 184.4 160.4 186.5C162.9 188.6 163.3 192.1 165.4 195.2C167.5 198.3 172.2 202.8 173 205.3C173.8 207.8 172.5 209.9 170.4 210.3C168.3 210.7 163.7 208.9 160.4 207.8C157.1 206.8 153.7 205.5 150.4 204C147.1 202.5 143.8 201.3 140.4 199C137.1 196.7 132 193.8 130.3 190.2C128.6 186.6 128.6 178.7 130.3 177.7Z"/>
<path fill="#E0E0E0" d="M192 166C193.5 164.2 198 162.7 200.5 163C203 163.3 206.2 166 207 168C207.8 170 207 173.4 205.5 175C204 176.6 200.3 177.7 198 177.5C195.7 177.3 192.5 175.9 191.5 174C190.5 172.1 190.5 167.8 192 166Z"/>
<path fill="#E0E0E0" d="M383 452C383.8 450 389.2 449.3 392 450C394.8 450.7 398.2 453.3 400 456C401.8 458.7 402 462.7 403 466C404 469.3 405.8 472.3 406 476C406.2 479.7 405.3 487.7 404 488C402.7 488.3 400 481 398 478C396 475 393.8 472.7 392 470C390.2 467.3 388.5 465 387 462C385.5 459 382.2 454 383 452Z"/>
<path fill="#E0E0E0" d="M488 290C488.2 286 490 282.4 492 280C494 277.6 496.7 276.1 500 275.6C503.3 275.1 508.8 275.1 512 277C515.2 278.9 518 283.2 519 287C520 290.8 519.3 296.5 518 300C516.7 303.5 514 306.3 511 308C508 309.7 503.3 310.7 500 310C496.7 309.3 493 307.3 491 304C489 300.7 487.8 294 488 290Z"/>
<path fill="#E0E0E0" d="M483 330C484.3 326.7 487.5 325.3 490 325C492.5 324.7 496.1 325.5 498 328C499.9 330.5 501.4 336 501.7 340C502 344 501.9 349.8 500 352C498.1 354.2 493 354.2 490 353C487 351.8 483.2 348.8 482 345C480.8 341.2 481.7 333.3 483 330Z"/>
<path fill="#F3F3E6" d="M495 285C495.7 282.5 498.8 281.2 501 281C503.2 280.8 506.3 282 508 284C509.7 286 511 290.3 511 293C511 295.7 509.5 298.5 508 300C506.5 301.5 503.8 302.5 502 301.8C500.2 301.1 498.2 298.8 497 296C495.8 293.2 494.3 287.5 495 285Z"/>
<path fill="#F3F3E6" d="M10 165C11.7 162.7 15.3 161.7 18 162C20.7 162.3 24.3 164.7 26 167C27.7 169.3 28.3 173.2 28 176C27.7 178.8 26.3 182.3 24 184C21.7 185.7 16.7 187.3 14 186C11.3 184.7 8.7 179.5 8 176C7.3 172.5 8.3 167.3 10 165Z"/>
<path fill="#F3F3E6" d="M118 126C118.7 125 121 124.5 122 125C123 125.5 124 127.7 124 129C124 130.3 123 132.7 122 133C121 133.3 118.7 132.2 118 131C117.3 129.8 117.3 127 118 126Z"/>
<path fill="#969696" d="M179.5 125C184.8 121.2 192.2 120.8 200 118C207.8 115.2 219.7 112.3 226 108C232.3 103.7 233.2 95 238 92C242.8 89 251.1 91.2 255 90C258.9 88.8 258.4 84.6 261.4 85C264.3 85.4 270 88.5 272.7 92.6C275.4 96.7 277 104.6 277.4 109.5C277.8 114.4 276.3 118.6 275 122C273.7 125.4 270.6 127.1 269.4 130C268.2 132.9 269.4 136.9 267.8 139.5C266.2 142.1 262.6 144.2 260 145.8C257.4 147.4 253.7 147.5 252 149C250.3 150.5 250 153.2 250 155C250 156.8 252.4 157.6 252 160C251.6 162.4 247 166.5 247.3 169.4C247.6 172.3 251 175.7 253.6 177.3C256.2 178.9 260.1 179 263 179C265.9 179 268.3 176.8 271 177.3C273.7 177.8 277.6 179.1 279 182C280.4 184.9 279.5 188.9 279.5 194.7C279.5 200.5 280.1 210.5 279 216.8C277.9 223.1 275.8 228.1 272.6 232.6C269.4 237.1 264.7 241.1 260 243.7C255.3 246.3 248.9 246.3 244.2 248.4C239.5 250.5 234.3 254 231.6 256.3C228.9 258.6 229 259.4 228 262C227 264.6 227.7 269.5 225.6 272C223.5 274.5 218.8 275.3 215.5 277C212.2 278.7 208.8 280.1 205.5 282C202.2 283.9 199.7 287 195.5 288.5C191.3 290 185.1 291.2 180.5 291C175.9 290.8 170.9 289.7 168 287C165.1 284.3 163 278.4 163 274.7C163 271 165.1 268 168 264.7C170.9 261.4 175.9 256.8 180.5 254.7C185.1 252.6 190.9 252.8 195.5 252C200.1 251.2 204.3 250.7 208 249.7C211.7 248.7 214.8 247.8 217.4 246C220 244.2 222.1 242.3 223.7 239C225.3 235.7 226.5 230.5 226.8 226.3C227.1 222.1 227.7 216.6 225.3 213.7C222.9 210.8 216.3 211.1 212.6 209C208.9 206.9 204.8 203.9 203.2 201C201.6 198.1 201.6 195.3 203.2 191.6C204.8 187.9 210 182.9 212.6 179C215.2 175.1 220.1 170.6 219 168C217.9 165.4 210.5 163.8 206.3 163.2C202.1 162.6 196.8 163.4 193.7 164.7C190.5 166 189.5 169.4 187.4 171C185.3 172.6 183.6 174.2 181 174.2C178.4 174.2 174.8 172.3 171.6 171C168.4 169.7 163.8 168.9 162 166.3C160.2 163.7 159.4 159.5 160.5 155.3C161.6 151.1 165.2 146.1 168.4 141C171.6 135.9 174.2 128.8 179.5 125Z"/>
<path fill="#969696" d="M91.5 187.7C92.8 185.6 95.9 184.4 99 185C102.1 185.6 106.3 189.6 110.3 191.5C114.3 193.4 120.3 194.2 122.8 196.5C125.3 198.8 126.1 202.9 125.3 205C124.5 207.1 121.1 207.7 117.8 209C114.5 210.3 109.9 211.3 105.3 212.8C100.7 214.3 93.5 217 90.2 217.8C86.9 218.6 85.4 219.5 85.2 217.8C85 216.1 88 211.2 89 207.8C90 204.5 91.1 201 91.5 197.7C91.9 194.3 90.2 189.8 91.5 187.7Z"/>
<path fill="#969696" d="M119 247C120.7 246.6 126.7 251.8 130 254.7C133.3 257.6 137.3 261.6 139 264.7C140.7 267.8 141 271.8 140 273.5C139 275.2 135.3 275.8 132.8 274.7C130.3 273.6 127.1 269.9 125 267C122.9 264.1 121 260.3 120 257C119 253.7 117.3 247.4 119 247Z"/>
<path fill="#969696" d="M187 196C188.3 195.2 194.3 195.3 196 196C197.7 196.7 198.3 199.2 197 200C195.7 200.8 189.7 201.7 188 201C186.3 200.3 185.7 196.8 187 196Z"/>
<path fill="#969696" d="M60 127C61.5 125.2 68.7 121.8 72.7 119C76.7 116.2 81.7 109.6 84 110C86.3 110.4 88 118.4 86.5 121.3C85 124.2 79 126.1 75.2 127.6C71.5 129 66.5 130.1 64 130C61.5 129.9 58.5 128.8 60 127Z"/>
<path fill="#969696" d="M94 96C96.3 94.3 105 95.3 110 95C115 94.7 121.8 92.5 124 94C126.2 95.5 125 101.7 123 104C121 106.3 115.8 107 112 108C108.2 109 102.7 110.5 100 110C97.3 109.5 97 107.3 96 105C95 102.7 91.7 97.7 94 96Z"/>
<path fill="#969696" d="M243 399C245.5 396.5 250.5 397.3 255 397C259.5 396.7 265.5 397.2 270 397C274.5 396.8 279.7 393.5 282 396C284.3 398.5 291 409.3 284 412C277 414.7 246.8 414.2 240 412C233.2 409.8 240.5 401.5 243 399Z"/>
<path fill="#969696" d="M312 396C314.2 395.6 318.4 397 321.4 397.5C324.4 398 327.1 397.1 330.2 398.8C333.3 400.5 337.5 404.5 340.2 407.6C342.9 410.7 345.2 414.3 346.5 417.6C347.8 420.9 348.3 424.7 347.7 427.6C347.1 430.5 344.8 433.9 342.7 435C340.6 436.1 337.9 435.1 335.2 433.9C332.5 432.7 329.3 429.1 326.4 427.6C323.5 426.1 320.1 428.3 318 425C315.9 421.7 315.7 412.2 314 408C312.3 403.8 308.3 402 308 400C307.7 398 309.8 396.4 312 396Z"/>
<path fill="#969696" d="M377.8 435C378.9 433.4 381.8 432.4 385.3 433C388.8 433.6 397.1 436.4 399 438.9C400.9 441.3 398.9 446.4 396.6 447.7C394.3 448.9 388.2 447.2 385.3 446.4C382.4 445.5 380.2 444.5 379 442.6C377.8 440.7 376.8 436.6 377.8 435Z"/>
<path fill="#969696" d="M400.4 455C401.4 452.7 406.2 451.4 410.4 451.4C414.6 451.4 421.2 454.4 425.4 455C429.6 455.6 432 456.2 435.4 455C438.8 453.8 442.8 449.5 445.5 447.7C448.2 445.9 449.8 443.2 451.7 444C453.6 444.8 455.6 449.2 456.7 452.7C457.8 456.2 456.9 461.7 458 465C459.1 468.3 460.7 470.2 463 472.7C465.3 475.2 470 474.6 472 480C474 485.4 487 500.8 475 505C463 509.2 411.6 508.3 400 505C388.4 501.7 404.1 490 405.4 485C406.7 480 408.1 478.3 407.9 475C407.7 471.7 405.4 468.3 404.1 465C402.9 461.7 399.3 457.3 400.4 455Z"/>
<path fill="#969696" d="M506 322C506.8 320.2 510 319.5 512 320C514 320.5 517.5 323 518 325C518.5 327 516.8 331 515 332C513.2 333 508.5 332.7 507 331C505.5 329.3 505.2 323.8 506 322Z"/>
<path fill="#C4C4C4" d="M236 130C237.8 127.8 241.8 126.5 244 127C246.2 127.5 248.2 130 249 133C249.8 136 249.8 141.8 249 145C248.2 148.2 246.2 151.2 244 152C241.8 152.8 237.8 152 236 150C234.2 148 233 143.3 233 140C233 136.7 234.2 132.2 236 130Z"/>
<path fill="#636363" d="M170 155.3C171.3 153.7 175.1 153.3 178 152C180.9 150.7 184 148.4 187.4 147.4C190.8 146.4 197.1 145 198.4 145.8C199.7 146.6 197.1 149.9 195.3 152C193.5 154.1 190.3 156.5 187.4 158.4C184.5 160.3 180.9 162.7 178 163.2C175.1 163.7 171.3 162.9 170 161.6C168.7 160.3 168.7 156.9 170 155.3Z"/>
<path fill="#636363" d="M244.2 198C245 195.9 246.4 194.2 249 194.7C251.6 195.2 256.8 199.2 260 201C263.2 202.8 266.2 203.2 268 205.8C269.8 208.4 271 213.4 271 216.8C271 220.2 269.6 223.4 268 226.3C266.4 229.2 264.5 232.3 261.6 234.2C258.7 236 253.4 237.7 250.5 237.4C247.6 237.1 245.5 235.5 244.2 232.6C242.9 229.7 242.6 224.2 242.6 220C242.6 215.8 243.9 211.1 244.2 207.4C244.5 203.7 243.4 200.1 244.2 198Z"/>
<path fill="#FDFBDD" d="M294 88.8C294.4 85.9 298 83.8 300.3 80C302.6 76.2 304.9 68.3 307.8 66C310.8 63.7 316.1 63.2 318 66C319.9 68.8 319.9 77.3 319 82.6C318.1 87.9 315.1 94.3 312.8 97.6C310.5 100.9 307.8 102.6 305.3 102.6C302.8 102.6 299.6 99.9 297.7 97.6C295.8 95.3 293.6 91.7 294 88.8Z"/>
<path fill="#FDFBDD" d="M341.6 87.6C341.2 82.6 340.9 72.9 343 70C345.1 67.1 351.8 66.2 354 70C356.2 73.8 355.3 86.8 356 92.6C356.7 98.4 358.5 102.3 358 105C357.5 107.7 355.1 109.8 353 109C350.9 108.2 347.3 103.6 345.4 100C343.5 96.4 342 92.6 341.6 87.6Z"/>
<path fill="#FDFBDD" d="M368 157.7C368 155.9 370.1 152.5 373 150C375.9 147.5 381.3 144.8 385.5 142.7C389.7 140.6 394.2 139 398 137.7C401.8 136.4 405.5 136.6 408 135C410.5 133.4 409.3 130.2 413 128C416.7 125.8 421.3 121.7 430 122C438.7 122.3 459.2 117 465 130C470.8 143 468.3 185.8 465 200C461.7 214.2 449.2 210.7 445 215C440.8 219.3 441.8 224.8 440 226C438.2 227.2 435.7 224.7 434 222C432.3 219.3 432.7 212 430 210C427.3 208 421.2 212.1 418 210C414.8 207.9 413.6 200.6 410.6 197.6C407.6 194.6 402.1 193.7 400 192C397.9 190.3 398.1 188.7 398 187.6C397.9 186.5 397.1 185.7 399.4 185.6C401.7 185.5 407.6 187.4 411.8 187C416 186.6 421.6 185.9 424.3 182.9C427 179.9 427.4 174.5 427.8 169C428.2 163.5 428.3 154.5 427 149.7C425.7 144.9 423.9 141.4 420 140C416.1 138.6 407.5 139.7 403.5 141.4C399.5 143.1 397.4 147.2 396 150C394.6 152.8 397.2 156.2 395 158C392.8 159.8 386.7 160.5 383 161C379.3 161.5 375.5 161.6 373 161C370.5 160.4 368 159.5 368 157.7Z"/>
<path fill="#FDFBDD" d="M398 187.6C397.9 185.5 405.5 185.1 410 185C414.5 184.9 420 186.2 425 187C430 187.8 437.5 183.5 440 190C442.5 196.5 437.5 219.7 440 226C442.5 232.3 450 227.7 455 228C460 228.3 465.3 226.8 470 228C474.7 229.2 480.8 231.7 483 235C485.2 238.3 485.9 244.7 483 247.7C480.1 250.7 470.4 250.8 465.4 252.8C460.4 254.9 457 259.1 452.8 260C448.6 260.9 443.5 258.7 440 258C436.5 257.3 434.2 255.3 432 256C429.8 256.7 428 258.8 427 262C426 265.2 426.2 270.3 426 275C425.8 279.7 426.7 285.3 426 290C425.3 294.7 424 300.3 422 303C420 305.7 416 306.5 414 306C412 305.5 410 302.7 410 300C410 297.3 413.3 293.3 414 290C414.7 286.7 415 282.7 414 280C413 277.3 410.3 275.3 408 274C405.7 272.7 403.7 271.8 400 272C396.3 272.2 389.3 276.4 385.6 275.3C381.9 274.2 380.1 268.6 378 265.3C375.9 262 373.4 258.7 373 255.3C372.6 252 373.4 248.1 375.5 245.2C377.6 242.3 381.4 239.8 385.6 237.7C389.8 235.6 396 234.8 400.6 232.7C405.2 230.6 410.1 228.8 413 225C415.9 221.2 418.4 214.6 418 210C417.6 205.4 413.9 201.3 410.6 197.6C407.3 193.9 398.1 189.7 398 187.6Z"/>
<path fill="#FDFBDD" d="M326 345C329.9 341.8 338.2 342.8 345.6 342.6C353 342.4 363.9 344.4 370.6 344C377.3 343.6 381.5 341.9 385.7 340C389.9 338.1 392.8 332.6 395.7 332.6C398.6 332.6 400 338.8 403.2 340C406.4 341.2 411.4 339.2 415 340C418.6 340.8 421.2 342.9 425 345C428.8 347.1 433.6 351 437.8 352.7C442 354.4 446.6 355.1 450.3 355C454 354.9 458.1 349.8 460 352C461.9 354.2 462.8 363.7 462 368C461.2 372.3 456.7 374.3 455 378C453.3 381.7 453.6 387.2 452 390C450.4 392.8 447.4 394.2 445.5 395C443.6 395.8 442.6 393.3 440.5 395C438.4 396.7 437.2 402.3 433 405C428.8 407.7 422.1 410 415.4 411.3C408.7 412.6 399.1 413.2 392.8 412.6C386.5 412 382.4 410.5 377.8 407.6C373.2 404.7 368.7 399.6 365.3 395C361.9 390.4 359.9 382.8 357.7 380C355.5 377.2 354.9 379.3 352 378C349.1 376.7 345 374.7 340 372C335 369.3 324.3 366.5 322 362C319.7 357.5 322.1 348.2 326 345Z"/>
<path fill="#FDFBDD" d="M287.8 250C289.7 245.8 292.4 241.4 295.3 237.7C298.2 234 302 229.8 305.4 227.7C308.8 225.6 311.2 225 315.4 225C319.6 225 326.2 226 330.4 227.7C334.6 229.4 338.4 231.3 340.5 235C342.6 238.7 342.2 246.2 343 250C343.8 253.8 346.8 255.7 345.5 257.8C344.2 259.9 339.1 262 335.4 262.8C331.6 263.6 326.3 261.6 323 262.8C319.7 264 316.6 267.1 315.4 270C314.2 272.9 314.9 276.3 316 280C317.1 283.7 320.6 287.8 322 292C323.4 296.2 323.5 299.9 324.3 305C325.1 310.1 326.2 317.8 326.8 322.6C327.4 327.4 329.5 332.2 328 333.9C326.5 335.6 321.8 334.1 318 332.6C314.2 331.1 308.8 328.3 305.5 325C302.2 321.7 300.1 316.8 298 312.6C295.9 308.4 295.2 303.8 293 300C290.8 296.2 286.8 294.2 285 290C283.2 285.8 282.2 279.5 282 275C281.8 270.5 283 267 284 262.8C285 258.6 285.9 254.2 287.8 250Z"/>
<path fill="#FDFBDD" d="M376.8 216.4C377.4 213.3 381.4 206.6 384.3 206.4C387.2 206.2 393.9 211.2 394.3 215C394.7 218.8 389.1 227.3 386.8 229C384.5 230.7 382.3 227.1 380.6 225C378.9 222.9 376.2 219.5 376.8 216.4Z"/>
<path fill="#FDFBDD" d="M336 326C337.2 323.7 340.7 319.3 343 319C345.3 318.7 348.8 321.7 350 324C351.2 326.3 351.2 330.8 350 333C348.8 335.2 345.3 337.5 343 337.5C340.7 337.5 337.2 334.9 336 333C334.8 331.1 334.8 328.3 336 326Z"/>
<path fill="#FDFBDD" d="M244 332C244.7 329.3 248 326.3 250 326C252 325.7 255.3 327.7 256 330C256.7 332.3 255.7 338 254 340C252.3 342 247.7 343.3 246 342C244.3 340.7 243.3 334.7 244 332Z"/>
<path fill="#FEEDB0" d="M419 195C420.2 192.5 422.8 191.2 425 190C427.2 188.8 429.8 187 432 188C434.2 189 438.2 193.5 438 196C437.8 198.5 432.3 200.7 431 203C429.7 205.3 429.2 207.8 430 210C430.8 212.2 435 214 436 216C437 218 437.3 221 436 222C434.7 223 430.5 223.2 428 222C425.5 220.8 422.7 217.8 421 215C419.3 212.2 418.3 208.3 418 205C417.7 201.7 417.8 197.5 419 195Z"/>
<path fill="#FEEDB0" d="M358 368C359 364.8 361.7 363.8 365 363C368.3 362.2 374.2 361.8 378 363C381.8 364.2 385.9 366.7 388 370C390.1 373.3 390.9 378.8 390.7 383C390.5 387.2 389.6 392.5 387 395C384.4 397.5 378.7 398.3 375 398C371.3 397.7 367.7 395.7 365 393C362.3 390.3 360.2 386.2 359 382C357.8 377.8 357 371.2 358 368Z"/>
<path fill="#FEEDB0" d="M405.7 365C406.4 361.2 407.3 358.8 410 357C412.7 355.2 418.3 354 422 354C425.7 354 429.5 354.7 432 357C434.5 359.3 436.2 363.7 437 368C437.8 372.3 437.6 378.5 436.8 383C436 387.5 434.8 392.5 432 395C429.2 397.5 423.7 398.3 420 398C416.3 397.7 412.3 396 410 393C407.7 390 406.7 384.7 406 380C405.3 375.3 405 368.8 405.7 365Z"/>
<path fill="#FDD68B" d="M371 377C371.8 375 374.2 372.3 376 372C377.8 371.7 380.8 373.2 382 375C383.2 376.8 383.8 380.7 383.5 383C383.2 385.3 381.4 387.9 380 389C378.6 390.1 376.5 390.3 375 389.5C373.5 388.7 371.7 386.1 371 384C370.3 381.9 370.2 379 371 377Z"/>
<path fill="#FDD68B" d="M410.5 368C410.9 365.6 411.8 362 414 360.5C416.2 359 420.9 358.4 423.5 359C426.1 359.6 428.4 361.4 429.5 364C430.6 366.6 430.7 371.6 430 374.5C429.3 377.4 427.7 380.6 425.5 381.5C423.3 382.4 419.3 381.1 417 380C414.7 378.9 412.6 377 411.5 375C410.4 373 410.1 370.4 410.5 368Z"/>
<path fill="#FEEDB0" d="M439 165C439.5 164.1 441.5 164.1 442 165C442.5 165.9 442.5 169.6 442 170.5C441.5 171.4 439.5 171.4 439 170.5C438.5 169.6 438.5 165.9 439 165Z"/>
<path fill="#FDC670" d="M413 364C413.8 361.8 417 361 419 361C421 361 424 361.8 425 364C426 366.2 426 371.5 425 374C424 376.5 420.8 379 419 379C417.2 379 415 376.5 414 374C413 371.5 412.2 366.2 413 364Z"/>
</g>
<path d="M125.3 120 L122.8 135 L127.8 142.7 L117.8 154 L130.3 165 L131.6 177.8 L127.8 186.6 L127.8 194.5 L135.3 199.5 L137.8 209.6 L141 215" fill="none" stroke="#B4B4B4" stroke-width="1.2" stroke-linejoin="round" stroke-linecap="round"/>
<path d="M50 227 L60 224 L65 218.5 L72.7 217 L75 222 L82.7 220.8 L89 219.5" fill="none" stroke="#B4B4B4" stroke-width="1.2" stroke-linejoin="round" stroke-linecap="round"/>
<path d="M97.7 225.8 L110.3 228.4 L115.3 234.6 L125.3 230.9 L135.3 227 L145.4 233.4 L160.4 229.6 L173 224.6 L185.5 230.9 L190.5 237 L200.5 242 L218 240.9 L225.6 235.9 L233 240.9 L240.6 237 L250.6 234.6 L263.2 232 L275.7 228.4 L283.2 229.6 L292.8 227.7 L296.6 219 L307.9 217.7 L320.4 224 L330.4 229 L340.5 227.7 L345.5 235 L355.5 240 L368 236.5 L385.6 235 L398 234 L410.6 230 L423 225 L433 222.7" fill="none" stroke="#B4B4B4" stroke-width="1.2" stroke-linejoin="round" stroke-linecap="round"/>
<path d="M225.6 240 L225.6 247 L233 252 L238 259.7 L250.6 272 L263.2 269.7 L270.7 274.7 L277.5 276.4 L285 271.4 L292.6 267.6 L297.6 261.3 L300.1 266.3 L310.1 262.6 L322.7 257.6 L335.2 253.8 L339.5 250" fill="none" stroke="#B4B4B4" stroke-width="1.2" stroke-linejoin="round" stroke-linecap="round"/>
<path d="M241.5 212.7 L245.2 200 L252.7 198.9 L259 197.6 L265.3 203.9 L270.3 210 L270.3 219 L265.3 225 L255.2 226.4 L247.7 222.7 L241.5 212.7" fill="none" stroke="#B4B4B4" stroke-width="1.2" stroke-linejoin="round" stroke-linecap="round"/>
<path d="M213 205 L217.6 192.6 L225.2 187.6 L227.7 180 L235.2 173.8 L239 168.8 L243 163" fill="none" stroke="#B4B4B4" stroke-width="1.2" stroke-linejoin="round" stroke-linecap="round"/>
<path d="M235 168.8 L247.7 170 L260.3 175 L272.8 177.6 L285.3 176.3 L300.4 173.8 L312.9 168.8 L325.4 170 L335.4 168.8 L343 163.8 L350.5 158.8 L358 152.5 L368 150 L375.4 145 L375.4 137.7 L370.4 130 L370.4 121" fill="none" stroke="#B4B4B4" stroke-width="1.2" stroke-linejoin="round" stroke-linecap="round"/>
<path d="M350.5 166.3 L360.5 167.5 L363 172.5 L355.5 175 L352 181 L348 187.6 L350.5 193.9 L365.5 196.4 L366.8 203.9 L360.5 212.7 L360.5 220 L355.5 230 L357 238" fill="none" stroke="#B4B4B4" stroke-width="1.2" stroke-linejoin="round" stroke-linecap="round"/>
<path d="M340.5 230 L339.2 245.2 L337.7 252.6 L342.7 262.6 L347.7 272.6 L350.2 278.9 L360.3 285 L370.3 290 L372.8 300 L380.3 306.4 L385.3 311.5 L395.3 307.7 L396.6 300 L402.9 299 L410.4 302.7 L412.9 310 L400.4 315 L392.8 321.5 L385.3 330 L377.8 337.8 L371.5 344 L378.9 347.7 L380.2 362.7 L373.9 367.7 L352.6 370.3 L350 377.8 L340 385.3 L345.2 392.5 L355.2 400 L359 406.3 L355.2 412.6 L347.7 420 L345.2 426.4 L340.2 432.6" fill="none" stroke="#B4B4B4" stroke-width="1.2" stroke-linejoin="round" stroke-linecap="round"/>
<path d="M285 271.4 L285 282.6 L287.6 292.7 L283.8 299 L287.9 305 L286.7 320 L280.4 321.3 L265.4 322.6 L255.3 327.6 L245.3 335 L250.3 332.6 L256.6 338.9 L257.8 352.7 L259.1 365.2 L261.6 380.2 L265.4 392.8 L266.6 401.5" fill="none" stroke="#B4B4B4" stroke-width="1.2" stroke-linejoin="round" stroke-linecap="round"/>
<path d="M412.9 302.7 L423 305 L433 311.5 L440.5 315 L442.8 332.7 L452.8 332.7 L461.6 331.4 L459.1 316.4 L470.4 316.4 L480.4 322.6 L481.7 345.2 L484.2 348" fill="none" stroke="#B4B4B4" stroke-width="1.2" stroke-linejoin="round" stroke-linecap="round"/>
<path d="M437.5 226 L446 229 L455 232 L462 236 L466 232 L470 227" fill="none" stroke="#B4B4B4" stroke-width="1.2" stroke-linejoin="round" stroke-linecap="round"/>
<path d="M35 140 L37.4 141.3 L39 143.7 L41.4 145 L43.3 146.9 L45.9 148 L47.9 149.9 L50 151.5 L50.7 154.3 L51.1 157.2 L52 160 L51.4 162.5 L52.3 165 L52.2 167.5 L51.4 170 L49.4 172.2 L48.3 175.1 L46.3 177.3 L45 180 L42.7 181.5 L40.1 181.7 L37.5 182.1 L35.2 183.6 L32.6 184 L29.9 184 L27.5 184.8 L25.3 186.6 L22.6 186.6 L20.1 188.9 L17 190" fill="none" stroke="#1414E6" stroke-width="1.1" stroke-linejoin="round" stroke-linecap="round"/>
<path d="M89 220 L91.9 219.9 L94.7 219.1 L97.1 217.2 L100 217 L101.8 215.1 L104.5 214.5 L106.6 212.9 L108.7 211.4 L110.5 209.5 L112.8 208.3 L115 206.5 L117.1 204.6 L119.1 202.7 L120.8 200.4 L123.2 198.8 L125.3 197 L126.7 194.9 L128.6 193.2 L130.5 191.4 L132 189.4 L133 187 L134.8 184.7 L136.4 182.4 L138 179.9 L140 177.8 L141.6 175.7 L143.6 174.2 L146 173.1 L147.8 171.4 L150 170 L152.4 169 L155.2 168.8 L157.5 167.4 L160 166.5 L162.7 166.1 L165.3 165.1 L168 165 L170.8 165.8 L173 167.8" fill="none" stroke="#1414E6" stroke-width="1.1" stroke-linejoin="round" stroke-linecap="round"/>
<path d="M173 167.8 L175 169.3 L176.5 171.4 L178.4 173.1 L180 175 L182.5 175.1 L185 175.2 L187.5 174.4 L190 175 L192.4 173.8 L195.1 174.4 L197.4 173 L200 172.8 L202.5 171.5 L205.4 171.4 L207.8 169.8 L210.6 169.2 L213 167.8 L215.5 167.8 L218 168 L220.5 167.8 L222.8 166.1 L225.6 165.5 L228.3 164.5 L230.6 162.8 L231 159.9 L231.7 157 L231.8 154 L234.8 153.4 L237.5 151.7 L240.6 151.5 L243.1 151.4 L245.6 150.6 L248 150 L248.4 147.4 L248.7 144.8 L250.4 142.6 L250.6 140 L251.4 137.6 L252.5 135.2 L253 132.7 L255.9 131 L258.3 128.7 L260.7 126.4 L259.2 124.3 L256.8 123.3 L255.2 121.3 L253 120 L251.4 117.9 L250.5 115.4 L248.9 113.2 L247 111.4 L245.2 109.2 L244 106.6 L242.9 104.1 L242 101.4 L238 99" fill="none" stroke="#1414E6" stroke-width="1.1" stroke-linejoin="round" stroke-linecap="round"/>
<path d="M173 167.8 L172.5 170.4 L171.8 173 L170.4 175.3 L169 177.7 L167.8 180.2 L166.5 182.6 L164.6 184.7 L163 187 L162.4 189.8 L162.6 192.5 L162.6 195.2 L163 198 L161.2 200.2 L158.8 201.8 L156.9 204 L154.9 206.1 L152.9 208.1 L150.4 209.6 L148.5 211.6 L145.8 212.5 L143.8 214.2 L141.7 215.9 L139.6 217.6 L137.8 219.6 L136 221.6 L133.8 223.1 L131.4 224.5 L129.3 226 L127.1 227.5 L125.3 229.6 L123.1 231.1 L122 233.7 L119.6 235 L117.8 237 L117.6 239.5 L117.8 242.1 L118.3 244.6 L117.8 247.2 L117.8 249.7 L119.6 251.9 L119.8 255 L121.1 257.4 L122.8 259.7 L124.2 261.7 L126 263.5 L126.8 266 L128.7 267.8 L130.3 269.7 L129.2 272.4 L128.6 275.2 L128.4 278.2 L127.8 281" fill="none" stroke="#1414E6" stroke-width="1.1" stroke-linejoin="round" stroke-linecap="round"/>
<path d="M220.5 167.8 L217.6 167.5 L216.2 169.9 L214.8 172.4 L213.5 174.9 L212.6 177.6 L212.1 180.8 L212.5 183.9 L213 187 L213.4 189.7 L215.5 191.8 L215.9 194.5 L216.8 197 L215.4 199.3 L215.1 202 L214 204.4 L214.3 207.2 L213 209.6 L210.9 211.1 L208.9 212.8 L206.5 213.8 L204.4 215.2 L202.7 217.3 L200.4 218.5 L198 219.6 L196.2 221.6 L193.6 222.7 L191.8 224.6 L190.3 227 L188 228.4 L186.8 231.2 L186.8 234.3 L185.5 237 L184.1 239.1 L183.4 241.7 L182.3 244 L180 245.6 L179.5 248.3 L178.3 250.5 L176.1 252.2 L175.4 254.7 L172.7 255 L170.5 256.6 L167.7 256.6 L165.4 258 L162.8 258.6 L160.4 259.7 L158.1 261.1 L155.2 261.2 L152.8 262.6 L150.1 263.3 L147.7 264.4 L145.5 266.2 L142.9 267" fill="none" stroke="#1414E6" stroke-width="1.1" stroke-linejoin="round" stroke-linecap="round"/>
<path d="M175.4 254.7 L177.7 256.6 L180.2 258.2 L183 259.4 L185.5 261 L187.7 262.2 L189.9 263.4 L191.4 265.7 L193.5 267 L195.5 268.5 L193.9 270.8 L193.2 273.6 L191.4 275.8 L190.5 278.5 L188 281" fill="none" stroke="#1414E6" stroke-width="1.1" stroke-linejoin="round" stroke-linecap="round"/>
<path d="M262.8 161.3 L264.3 164.3 L265.3 167.5 L266.8 169.8 L267.1 172.6 L268.9 174.8 L269.3 177.5 L270.3 180 L269.2 182.6 L268.4 185.3 L266.5 187.5 L265.9 190.3 L264.1 192.5 L262.8 195 L262.1 197.8 L260.8 200.3 L259.1 202.5 L257.3 204.8 L256.9 207.7 L255.2 210 L254 212.7 L252 215 L250.2 217.3 L249.1 220.1 L247.7 222.7 L246 224.9 L243.6 226.6 L242.8 229.5 L240.2 231 L239 233.6 L237.4 235.9 L235.2 237.7 L233.5 239.8 L231.2 241.2 L228.7 242.4 L227.1 244.7 L224.7 245.9 L222.7 247.7 L220.4 249.4 L218.5 251.5 L216.1 253.1 L214 255 L214.6 257.5 L214.6 260 L214.4 262.5 L214 265 L215.3 267.2 L217 269.1 L218.7 271 L219.8 273.3 L221.4 275.3" fill="none" stroke="#1414E6" stroke-width="1.1" stroke-linejoin="round" stroke-linecap="round"/>
<path d="M264 161.3 L266.2 162.9 L267.3 165.5 L270 166.6 L271.3 169 L273.8 170.3 L275.3 172.6 L277.9 173 L280.1 174.8 L282.9 174.5 L285.2 175.9 L287.8 176.4 L290.3 177.2 L292.8 178 L295.3 178.8 L297.7 180.6 L299.2 183.3 L301.6 185 L302.2 187.5 L302 190 L302.3 192.6 L301.9 195.1 L301.6 197.6 L300.9 200.2 L299.4 202.5 L299.3 205.2 L298.8 207.8 L297.8 210.3 L296.6 212.7 L295.2 215 L295.7 217.8 L294.2 220 L293.7 222.6 L292.8 225 L293.8 227.6 L295.3 230 L294.3 232.6 L292.6 234.9 L291.6 237.5 L290.3 240 L288.5 242 L286.5 243.9 L285.2 246.3 L284 248.8 L282.4 251 L280.3 252.8 L277.9 253.7 L276.1 255.7 L274.3 257.5 L271.6 258.1 L269.8 260 L267.8 261.5 L265.9 263.4 L264 265.4 L262.8 267.8" fill="none" stroke="#1414E6" stroke-width="1.1" stroke-linejoin="round" stroke-linecap="round"/>
<path d="M247.6 151.5 L250.1 152.9 L252.7 154.2 L255.4 155.3 L257.4 157.6 L260.5 158 L262.7 160 L265.2 159.4 L267.8 159.4 L270.1 157.7 L272.7 157.7 L274.8 156.1 L277 154.5 L278.5 152.2 L280.9 150.9 L283.3 149.6 L285.2 147.7 L287.2 146.1 L289.4 144.9 L290.9 142.7 L293 141.2 L295.2 140 L297.5 138.5 L300.2 138 L303 137.6 L305.3 136.1 L307.8 135 L310.3 135.4 L312.8 134.8 L315.3 135.3 L317.8 134.4 L320.3 135 L322.7 133.7 L325.4 133.2 L327.9 132.3 L330.3 130.9 L332.8 130 L335.1 128.3 L337.7 127.3 L340.2 126 L342.7 124.9 L345.4 124 L347.9 124.8 L350.5 124.2 L353 125 L355.2 126.8 L357.7 128.1 L360.4 129" fill="none" stroke="#1414E6" stroke-width="1.1" stroke-linejoin="round" stroke-linecap="round"/>
<path d="M285.2 147.7 L287.7 147.8 L290.2 147.6 L292.7 147.8 L295.2 147.7 L297.9 148.3 L300.1 150 L302.6 151 L305.3 151.5 L306.8 154.4 L309 156.9 L310.3 160 L312.8 161 L315.4 161.6 L317.8 162.8 L320.2 161.9 L322.9 162.3 L325.5 161.8 L327.7 159.9 L330.3 160 L333.4 159.3 L336.2 157.8 L339 156.5 L339.8 153.9 L340.7 151.4 L342.2 149.1 L343 146.5 L345.5 145.9 L348 145.8 L350.5 145.2 L352.8 144 L355.4 144 L358 144 L360.5 143.8 L363 143.4 L365.4 142.5 L367.8 141.3 L370.4 141.5 L373 141 L375.5 141.4 L377.9 142.7 L380.5 142 L383 142.3 L385.5 142.7 L387.2 144.8 L389.8 145.8 L391.7 147.7" fill="none" stroke="#1414E6" stroke-width="1.1" stroke-linejoin="round" stroke-linecap="round"/>
<path d="M301.6 183.8 L304.3 183 L307.1 182.4 L310 182.1 L312.6 180.7 L315.4 180 L317.9 179.2 L320.4 178.4 L322.8 177.1 L325.4 176.7 L328 176 L330.4 175 L332.9 175.7 L335.5 175.1 L338 175.7 L340.5 176.3 L343.3 177 L345.3 179.2 L347.9 180.3 L350.5 181.3 L353.2 181.5 L355.3 183.6 L358 183.8 L360.4 184.6 L363 184.4 L365.5 184.6 L368 184.1 L370.6 184.1 L373 185 L375.5 185.9 L378.2 186.1 L380.6 187.1 L383.1 188 L385.7 188.5 L388 190 L390.5 191.2 L393.1 192.5 L395.3 194.3 L398.1 195.1 L400.6 196.4 L403 197.5 L405.6 198.2 L408 199.3 L410.6 200 L411.1 202.5 L411.8 205 L411.9 207.6 L410.9 210 L410.6 212.6 L410.5 215.1 L410.6 217.7" fill="none" stroke="#1414E6" stroke-width="1.1" stroke-linejoin="round" stroke-linecap="round"/>
<path d="M433.2 216.4 L433.9 219.2 L434.1 222.1 L434.8 224.9 L435.7 227.7 L436.1 230.3 L436 232.8 L435 235.2 L434.4 237.7 L433.6 240.4 L431.3 242.4 L430.3 245 L429.4 247.7 L427.7 250.1 L426.2 252.7 L424.5 255.1 L423.2 257.8 L420.8 259.2 L418.1 259.3 L415.7 260.6 L412.7 259.8 L410.4 261.3 L408.3 263.3 L405.1 263.2 L403.2 265.8 L400.2 266 L397.8 267.6 L395.4 269.2 L392.9 270.3 L390 270.8 L388.2 273.5 L385.3 273.9 L383.2 275.9 L379.9 275.6 L377.8 277.5 L375.7 279.5 L372.8 280 L370 279.8 L367.5 280.7 L365.5 283.1 L362.8 283.3 L360.3 283.9 L358 285.4 L355.4 285.9 L352.7 286.2 L350.4 287.9 L347.6 287.7 L345.2 288.9 L342.9 290.4 L340.4 290.8 L337.5 290.2 L335.2 291.4 L332.7 291.9 L330.2 292.1 L327.7 292 L325.2 292.5 L322.7 292.7 L320.2 293.7 L317.9 295.1 L315 294.5 L312.3 294.8 L310 296.4 L307 295.1 L303.8 295.4 L300.7 295.6 L297.6 295 L294.6 295.9 L291.4 295.9 L288.4 296.5 L285.4 297.5 L283.4 300.5 L280.4 302.5 L278 303.5 L275.5 303.8 L272.9 304 L270.3 303.9 L267.9 305 L265.4 305.9 L263.2 307.8 L260.1 307.2 L257.8 308.8 L255.4 310.2 L252.8 311.3 L250.5 313 L247.8 313.8 L245.4 315.2 L242.9 316.5 L240.3 317.6 L237.6 318.3 L235.7 320.8 L232.8 321.3 L230.3 322.4 L228.1 324.3 L225.3 325 L224.3 328.1 L224 331.4" fill="none" stroke="#1414E6" stroke-width="1.1" stroke-linejoin="round" stroke-linecap="round"/>
<path d="M322.7 292.7 L323.7 295.1 L323.5 297.7 L324 300.2 L324.3 302.7 L325.5 305 L326.3 307.4 L326.5 310 L326.9 312.4 L326.9 315 L326.1 317.5 L326.8 320 L328 322.4 L327.7 325.1 L328.9 327.4 L329.2 330 L329.3 332.6 L329.4 336.3 L329.3 340 L326.1 340.7 L323.3 342.5 L320.5 344 L321 347 L320.1 349.9 L319.2 352.7 L319 357" fill="none" stroke="#1414E6" stroke-width="1.1" stroke-linejoin="round" stroke-linecap="round"/>
<path d="M329.3 341.4 L331.9 342.3 L333.4 344.8 L335.6 346.3 L338 347.6 L340.2 349.4 L343.2 349.2 L345.7 350.2 L347.9 352.1 L350.6 352.7 L352.9 354.5 L355.8 355.5 L357.9 357.7 L360.6 359 L362.9 360.1 L364.7 362 L367.6 362.1 L369.4 364 L368.7 367.2 L366.9 370 L364.6 372.1 L363.8 375.3 L361.9 377.7 L363.2 380.5 L363 383.7 L364.4 386.5 L366.4 388.9 L369.2 390.4 L370.9 393.2 L373.1 395.3 L374.7 397.7 L377.4 399.2 L378.5 402 L380.6 404 L383.2 405.1 L385 407.1 L386.9 409" fill="none" stroke="#1414E6" stroke-width="1.1" stroke-linejoin="round" stroke-linecap="round"/>
<path d="M423.2 257.8 L421.8 260.1 L423.2 262.9 L421.3 265.1 L422 267.8 L419.9 270 L420.4 272.6 L422 274.9 L421 277.8 L422 280.2 L423 282.6 L421.1 284.8 L419.6 287.2 L419.7 290.4 L418 292.7 L417 295.3 L415.1 297.5 L414.6 300.4 L413 302.7 L412.8 305.3 L412.2 307.8 L410.4 310 L410.4 312.7 L407.6 313.3 L405.1 314.7 L403.1 316.9 L400.4 317.7 L397.4 319.6 L395.7 322.6 L397.3 325.1 L399.5 327.2 L400.7 330 L402.8 331.6 L405 333.2 L407.5 334.3 L409 336.8 L411.3 338.1 L413.2 340 L415.2 341.8 L416.9 344 L419.3 345.2 L421.7 346.5 L423.2 348.9 L425.8 350 L427.3 352.7 L430.2 353.8 L431.7 356.4 L434.5 357.7 L435.1 360.4 L434.4 362.8 L433.3 365.2 L431.1 367.2 L427.8 367.4 L425.6 369.3 L423 370.7 L420.9 372.9 L418.2 374 L416.7 376.2 L414.6 378 L414.4 381.2 L412.8 383.4 L410.7 385.2 L411.1 387.9 L409.8 390.3 L408.5 392.6 L408.6 395.3 L408.2 397.8 L409.2 400.2 L409.9 402.8 L410.7 405.3 L407.9 406.3 L404.8 405.2 L402 406.5" fill="none" stroke="#1414E6" stroke-width="1.1" stroke-linejoin="round" stroke-linecap="round"/>
<path d="M434.5 357.7 L437.4 359.4 L440 361.4 L442.6 361.4 L445.2 361.3 L447.8 361.4 L450.4 361.5 L452.9 360.5 L455.5 360 L457.8 358.7 L460.5 358.3 L462.7 356.7 L465.4 356.5 L467.8 354.8 L470.3 353.3 L472.6 351.6 L475.6 350.8 L477.9 349 L481.7 346.4" fill="none" stroke="#1414E6" stroke-width="1.1" stroke-linejoin="round" stroke-linecap="round"/>
<path d="M359.2 250.3 L361.4 249.1 L363.8 248.1 L366.1 247 L368 245.2 L370.4 243.4 L373.2 242.5 L375.7 240.9 L378.2 239.4 L380.6 237.7 L382.9 236.2 L385.3 235.1 L388 234.5 L390.6 234 L393 232.7 L394.8 230.9 L397 229.7 L398.9 228 L401.4 227.1 L403.1 225.2 L405.9 224.5 L408.1 222.7 L410.7 225.1 L413.1 227.7 L415.8 227.8 L418 225.9 L420.8 226.2 L423.2 225.2 L425.9 224.4 L428 222.3 L430.8 221.7 L433.2 220.2" fill="none" stroke="#1414E6" stroke-width="1.1" stroke-linejoin="round" stroke-linecap="round"/>
<path d="M325.2 417.6 L327.1 417 L327.4 419.5 L329.3 418.8 L330.8 418.9 L331.5 420.7 L332.7 421.3 L334 421.9 L335.2 422.6 L336.4 423.4 L338 423.6 L339.1 424.5 L338.9 426.8 L341.1 426.5 L341.1 428.6 L342.7 428.9 L343.2 430.8 L344.3 431.9 L345.4 433 L348.3 431.3 L349.6 432.1 L350.2 433.9 L351.2 435.2 L352.6 434.8 L354.3 433.6 L355.1 435.9 L356.1 437.1 L357.4 437.2 L359.3 434.9 L360.3 436.4 L361.2 435.1 L362 433.4 L364.8 436.9 L364.9 433.4 L366.9 435 L367.9 433.7 L369.2 433.5 L370.3 432.6 L371 433.9 L370.8 435.9 L372.4 436.5 L374.4 437 L375.9 437.8 L375.3 440 L376.1 441.2 L375.1 443.5 L378.8 443 L377.5 445.5 L378.4 446.6 L380.9 446.9 L380.3 448.9 L382.3 448.8 L382.3 451.5 L384.2 451.5 L385.3 452.7 L385.8 451.4 L386.9 450.5 L386.4 448.5 L389.3 449.1 L389.8 447.7 L390.3 446.4 L391 447.5 L392.5 448.1 L391.7 450.4 L392.5 451.5 L394.3 451.8 L395.3 452.7 L397 451.1 L398.4 451.5 L399.8 451.7 L401.3 451.5 L402.4 454.2 L403.9 453.9 L405.4 453.9 L407 452.9 L407.8 456.2 L409.5 455.3 L410.7 456.3 L412.1 456.7 L413.6 456.3 L415.1 456 L416.1 458.2 L417.9 456.4 L419.8 455.4 L420.1 458.2 L421 459.5 L422.9 458.4 L423.6 460.3 L425.9 458.3 L426.8 459.7 L428.3 459.7 L429.3 460.7 L430.1 462.5 L432.3 460.7 L432.9 462.7 L433.8 461.3 L436.3 462.3 L436.2 459.5 L437.1 458 L440.4 460.4 L440.5 457.7 L441.8 457.5 L442.3 454.9 L444.3 456.7 L445 454.6 L446.3 454.2 L448 455.2 L449.3 456.5 L450.9 456.3 L452.6 455.6 L454 456.2 L455.5 456.4" fill="none" stroke="#1414E6" stroke-width="1.1" stroke-linejoin="round" stroke-linecap="round"/>
<path d="M10.5 153.8 L12.7 152.8 L14.5 151.3 L16.5 150.1 L18.8 149.4 L20.5 147.7 L22.7 146.9 L24.8 145.8 L26.9 144.7 L28.7 143.2 L31 142.4 L33 141.1 L35 140 L37.1 139.2 L38.6 137.4 L41 137 L42.5 135.3 L44.8 134.7 L46.5 133.3 L48.6 132.5 L50.2 130.8 L52.2 129.8 L54 128.5 L56.3 127.9 L58.1 126.6 L60 125.5 L61.7 124 L63.5 122.7 L65.3 121.4 L67.2 120.2 L69.3 119.2 L71 117.8 L73 116.8 L74.6 115 L76.8 114.3 L78.7 113.2 L80.4 111.7 L82.3 110.4 L84 109 L86.5 108.4 L88.7 106.9 L91.2 106.3 L93.5 105 L96 104.5 L96.3 101.8 L96 99 L99 98.5 L102 98 L102.6 100.5 L102.5 103 L104.7 102.3 L107 101.9 L109.2 101 L111.3 100 L113.7 100 L115.7 98.6 L118.1 98.6 L120.4 98.1 L122.5 97 L124 101 L123.1 103.1 L122.3 105.2 L122 107.5 L122.5 110.8 L123 114 L124.2 115.9 L125 118 L126 120 L127.9 121.4 L130 122.5 L132.2 122.7 L134.4 122.4 L136.6 122.9 L138.8 122.1 L141 122.5 L141.3 119.7 L141.3 116.8 L142 114 L144.7 113.4 L147.5 113 L150.2 112.4 L152.5 111 L155.1 111.9 L157.3 113.7 L160 114.5 L162.4 115.6 L165 116.2 L167.6 116.4 L170 117.5 L172.7 118.3 L175.3 119.3 L178 120 L178.6 122.5 L178.7 125 L179.1 127.5 L179 130 L181.9 130.8 L185 131 L187.9 132.1 L191 132.5 L192.5 129.5 L195 129.7 L197.5 129.4 L200 129 L202.5 127.6 L204.8 125.7 L207.5 124.5 L210 124.3 L212.5 124.4 L215 124 L217 122.7 L218.4 120.7 L220.2 119.2 L222.1 117.7 L224.4 116.8 L226 115 L227.2 113 L228.9 111.4 L230.5 109.7 L232.3 108.2 L233.3 106 L235 104.5 L236.2 101.4 L235.6 99.2 L235.5 97 L237.8 97.1 L240 96.4 L242.3 96.4 L244.6 96.1 L246.9 96.8 L249.1 96.1 L251.4 96.2 L252.1 100 L254.6 100.2 L257.2 100.4 L259.7 100.7 L262.3 99.7 L264.5 98 L264 94.9 L263.1 91.8 L261.5 89.3 L259.7 86.9 L258.6 84.2 L257.6 81.4 L259.8 79.9 L262.4 78.9 L264.5 77.3 L266.7 76 L269.1 75.5 L271.4 74.5 L273.9 74 L276.4 73.6 L279 73.5 L280.4 75.9 L279.5 79 L278.6 82.1 L279.7 86 L282.4 85 L285.2 84.6 L287.7 85.1 L290.3 85.2 L292.8 86 L294.2 83.6 L296.3 81.8 L298.1 79.3 L300.4 77.3 L301.7 75.2 L303.8 73.7 L305.1 71.6 L306.7 69.7 L310.1 68.6 L313.2 69.7 L316.3 70.4 L317.9 72.3 L319.8 73.8 L320 76.6 L319.5 79.3 L317.7 82.8 L319.1 85.6 L316.1 84.5 L312.9 84.2 L309.8 84.9 L310.1 87.6 L314.3 88.7 L316.7 88 L319.1 87.6 L322.2 87.9 L325.3 88.3 L326.7 86.2 L327.8 88.3 L328.8 90.4 L330.8 92.5 L333 90.5 L335 88.3 L336.6 86.6 L337.5 84.5 L339.1 82.8 L340.2 80.8 L340.8 78.6 L341.5 76.5 L342.6 74.5 L345.3 72.2 L347.4 74.5 L351.5 75.9 L352.2 78.4 L353.6 80.7 L354 82.9 L355 84.9 L353.3 87.1 L352.2 89.7 L350.2 93.1 L351.9 94.9 L353.1 97.1 L355 98.7 L356.6 100.9 L358.5 102.8 L358.7 105.6 L359.8 108.3 L362.1 108.3 L364.4 108.3 L366.7 107.7 L369.5 109.4 L372.3 111.1 L372.5 113.4 L372.9 115.7 L373.6 118 L376.1 117.9 L378.6 117.8 L381 117.6 L383.5 117.9 L386 117.5 L388.3 117.1 L390.6 117.1 L392.9 116.7 L395.2 116.5 L397.5 116 L399.3 114.6 L401 113.2 L403.2 112.4 L405 111 L407.6 111.4 L410 112.5 L411.6 114.3 L412.8 116.4 L414.8 117.9 L416 120 L416.4 123.1 L417.5 126 L419.2 127.4 L421 128.6 L422.8 130 L424.9 130.8 L426.7 132.1 L428.1 133.9 L430 135 L432.5 135.3 L435 135.5 L437.5 135.9 L440 135.6 L442.5 136 L444.5 138.3 L446 141 L449.3 141.2 L452.5 140.5 L454.3 142.5 L455.5 145 L454 146.7 L452.4 148.3 L451 150 L451.4 152.6 L452.5 155 L451.1 156.9 L449 158.2 L447.5 160 L446.1 162.7 L444 165 L444.5 168 L445 171 L443.9 173 L442.7 174.9 L442.4 177.2 L440.8 178.9 L440 181 L441.5 183.4 L442.5 186 L441.3 188 L439.5 189.8 L438.3 191.8 L437.6 194.2 L436 196 L434.8 197.9 L433.3 199.5 L431.3 200.7 L430 202.5 L430.1 205.1 L429.1 207.5 L429 210 L430.5 212.2 L432.1 214.2 L434 216 L433.6 219.2 L434 222.5 L435.7 224.3 L437.5 226 L439.8 225.1 L441.9 223.7 L444 222.5 L447 223.4 L450 224 L452.6 224.6 L455 226 L457.3 225.8 L459.5 225.9 L461.7 225.1 L464 225 L467 225.7 L470 226 L472.5 226.1 L475 226.7 L477.5 227.2 L480 227.5 L481.8 230.2 L484 232.5 L486.9 232.8 L489.7 233.5 L492.5 234 L494 235.8 L495 238 L496.1 240.2 L497.8 241.9 L499 244 L499.7 246.2 L500.7 248.3 L501.9 250.3 L502.5 252.5 L505 253.2 L507.6 253.2 L510 254 L512 255.1 L514 256 L512.1 257.3 L510.9 259.3 L509.1 260.7 L507.7 262.5 L506 264 L504.7 265.9 L503.9 268.1 L502.5 270 L503.7 273 L505 276 L506.5 277.8 L508.5 279.2 L510 281 L512.5 280.7 L515 280.5 L517.5 280.3 L520 280.5 L522.4 282.4 L525 284 L525.6 286.4 L526.6 288.7 L527.5 291 L527.9 293.2 L528.4 295.5 L528.9 297.7 L529 300 L527.6 302.4 L527 305 L526 307.5 L527.5 309.2 L529.4 310.6 L531.1 312.2 L532.5 314 L534.5 317.5 L532.5 319.6 L530 321 L527.6 321.9 L525 322.6 L522.5 323.2 L520 324 L518.2 326.3 L516.5 328.6 L515 331 L512.6 332 L510.4 333.3 L508.2 334.6 L506 336 L504.6 338 L503.6 340.3 L502.5 342.5 L503.4 345 L503.8 347.6 L505 350 L502.3 351.7 L500 354 L499.6 357.3 L499 360.5 L496 359.5 L495.8 357.2 L495 355 L492.7 354.8 L490.5 354.3 L488.2 354.7 L486 354 L484.3 351.9 L482.5 350 L480.2 350.6 L478.3 352 L476 352.7 L474 354 L473.1 357 L472.5 360 L471.6 362.1 L470.3 364 L468.9 365.7 L467.5 367.5 L465.4 368.4 L463.7 369.9 L461.8 371.2 L460 372.5 L460 375 L460.8 377.5 L461 380 L460 382.1 L458.5 383.8 L456.9 385.4 L456 387.5 L456.3 390.8 L456 394 L454.3 395.7 L452.8 397.5 L451 399 L450.1 402 L449 405 L448 407.7 L446 409.8 L445 412.5 L446.8 414 L448.1 416 L450 417.5 L448.5 419.4 L446.7 420.9 L445 422.5 L445.8 424.9 L445.6 427.5 L446 430 L448.5 432 L451 434 L452.6 436.5 L454 439 L455.7 441 L456.9 443.3 L458.8 445.1 L460 447.5 L461.8 449 L464 449.8 L466 451 L465.2 453.6 L464.7 456.3 L464 459 L466.7 459.6 L469 461 L468.9 463.7 L467.8 466.3 L467.5 469 L465.9 470.5 L464.4 472.1 L462.6 473.5 L461 475 L462.7 477.7 L465 480 L463.3 482 L461.7 484 L460 486 L457 484.9 L454 484 L451.8 485 L450.2 486.9 L447.9 487.6 L446 489 L444 487.9 L442.1 486.8 L440 486 L437.6 486.8 L434.9 486.7 L432.5 487.5 L431 489.4 L430.2 491.6 L428.4 493.3 L427.5 495.5 L425.5 494.3 L424 492.5 L421.3 493.3 L418.8 494.5 L416 495 L413.8 496.1 L411.3 496.5 L409 497.5 L408.2 494.9 L407 492.5 L405.8 490.1 L405 487.5 L404.4 485.4 L403.7 483.3 L403 481.2 L402.5 479 L400.9 477.3 L399.5 475.4 L397.9 473.7 L396.2 472 L395 470 L392.5 471.3 L390 472.5 L387.4 471.9 L385 471 L386.5 468.1 L387.5 465 L386.3 462.9 L384.7 461.3 L382.9 459.7 L381.5 457.8 L380 456 L377.8 455.8 L375.5 456.2 L373.2 455.7 L371 456 L368.3 455.4 L366 454 L364.2 452.3 L362 451.3 L360 450 L359 447.6 L357.6 445.5 L356.5 443.1 L355 441 L352.5 440.6 L349.9 440.4 L347.4 439.8 L345 439 L343.1 437.2 L341.3 435.3 L339 434 L336.7 434.6 L334.4 434.8 L332.1 435 L329.8 435.8 L327.5 436 L324.9 435.2 L322.5 434 L323.6 431.4 L323.8 428.6 L325 426 L324 423.7 L323.4 421.3 L322.5 419 L323.7 416.3 L325.2 413.8 L326 411 L324.8 408.7 L323.6 406.4 L322.5 404 L320.2 403 L318.4 401.3 L315.9 400.6 L314 399 L314.5 396.6 L315.6 394.5 L316.9 392.3 L317.5 390 L317.7 387.5 L318.2 385 L318.3 382.4 L319 380 L318.8 377.5 L319.4 375 L319 372.5 L321.6 371.5 L324 370 L324.1 367.7 L325.4 365.6 L325.5 363.2 L326 361 L323.8 360.4 L321.7 359.4 L319.8 358 L317.5 357.5 L315.8 359.1 L313.5 360.1 L311.5 361.4 L309.6 362.9 L307.8 364.4 L306 366 L304.3 367.8 L303.5 370.2 L301.7 371.9 L300.1 373.8 L299 376 L299.1 378.3 L299.7 380.5 L299.6 382.8 L299.6 385.1 L299.8 387.4 L299.7 389.7 L300 392 L297.5 392.6 L295.1 393.1 L292.5 392.9 L289.9 392.9 L287.5 393.7 L285 394 L283.1 395.3 L281.3 396.7 L279.5 398.1 L277.6 399.4 L276 401 L273.6 401.9 L271 401.8 L268.5 402.6 L266 403 L263.1 402.4 L260.4 401.4 L257.5 401 L254.9 400.8 L252.6 399.6 L250.1 399.2 L247.5 399 L245 398.8 L242.5 398.8 L240 399.5 L237.5 399.2 L235 399.1 L232.5 399.5 L230 398 L227.6 396.4 L225 395 L224.2 392.6 L224 390 L225 387.8 L225.4 385.3 L226.6 383.3 L227.5 381 L229.5 379.7 L231.7 379.1 L233.7 378.1 L236 377.5 L234.7 375.4 L233.4 373.3 L232.5 371 L231.8 368.6 L230.9 366.3 L230 364 L227.6 362.8 L225.1 361.7 L222.5 361 L223.4 358.9 L224 356.6 L224.6 354.4 L225.5 352.3 L226 350 L226.4 347.5 L226.9 345 L227.5 342.5 L229.3 341.2 L231 339.6 L233 338.5 L235 337.5 L234.6 335 L234 332.5 L231.6 334.3 L229 336 L226.5 335.1 L224 334 L222.7 331.5 L221.7 328.8 L221 326 L219.2 324.1 L217.2 322.5 L215 321 L213.4 319.5 L212.3 317.5 L210.5 316.1 L209 314.5 L205.7 314.5 L202.5 315 L200.3 316.2 L197.8 316.4 L195.6 317.7 L193.4 318.9 L191 319.5 L188.7 319 L186.5 318.1 L184.2 317.2 L182.3 315.7 L180 315 L177.8 314.9 L175.6 315.6 L173.4 315.8 L171.2 315.4 L169 316 L168.5 318.3 L167.2 320.4 L166.5 322.7 L166 325 L164.2 322.5 L162.5 320 L161.3 317.5 L160.1 315 L159 312.5 L159.1 310 L159.7 307.5 L159.9 305 L160 302.5 L160.1 299.8 L159 297.2 L159 294.5 L157.6 292.7 L156.5 290.7 L155.5 288.7 L154 287 L152.1 285.3 L149.8 284.1 L147.5 283 L145 283.6 L142.5 283.3 L140 284 L137.5 284 L138.2 281.5 L139 279 L136.4 278.4 L134 277 L132.1 278.8 L129.7 280.1 L127.5 281.5 L124.9 281.7 L122.5 282.7 L120 283 L117.9 282.1 L116.3 280.4 L114.3 279.4 L112.5 278 L110.9 276.1 L109.8 273.9 L109 271.5 L107.5 269.5 L107.9 267 L107.5 264.5 L107.5 262 L107.5 259.5 L107 257 L106 254.5 L105.3 252 L104.9 249.4 L104 247 L104.4 244.8 L104.8 242.5 L104.8 240.3 L105 238 L102.1 236.7 L99 236 L98 233.6 L96.3 231.6 L95.4 229.2 L94 227 L92.4 224.6 L90.4 222.5 L89 220 L85.8 220.7 L82.5 221 L80 222.3 L77.3 223 L75 224.5 L72.9 225.5 L70.4 225.3 L68.1 226 L66 227 L64.4 229.1 L62.6 230.9 L61 233 L60 235.4 L59 237.9 L57.5 240 L55.4 238.3 L54 236 L51.8 235.4 L49.5 235.5 L47.3 234.9 L45 234.5 L43.6 232.7 L42.1 231 L41.2 228.9 L40 227 L38 225.4 L36.3 223.3 L34 222 L32.7 219.5 L31.7 216.8 L30 214.5 L27.7 214 L25.6 213 L23.3 212.6 L21 212 L19.3 209.7 L18.7 206.8 L17 204.5 L17.4 201.3 L17.5 198 L17.1 195.2 L16.4 192.3 L16 189.5 L17.5 186 L16.8 183.8 L17.3 181.5 L16.4 179.3 L16.1 177 L16.5 174.7 L16 172.5 L15.4 170 L15.1 167.5 L14.6 165 L14.4 162.5 L14 160 L13.1 157.8 L11.5 155.9Z" fill="none" stroke="#222" stroke-width="1.9" stroke-linejoin="round"/>
<path d="M331.5 79.3 L334.7 79 L334.3 82.1 L332.2 84.9 L329.7 84.6 L329.4 81.8 Z" fill="#111" stroke="#111" stroke-width="0.8" stroke-linejoin="round"/>
</g>
<g opacity="0.999">
<g transform="translate(0,0)" fill="#0055FF">
<path d="M7 4.7 H19.7 C23 5.5 26.5 10 27.8 15.5 C29.6 23 29 33 25.2 41 C23 45.5 21.5 49 21.3 53.7 H7 Z"/>
<path d="M56 7.9 C52 8.4 46.5 12.3 42.6 18.9 C40.6 23 41.6 28 37.3 34.7 C33 40 28 44 25.4 48.9 C24.3 50.8 23.8 52 23.7 53.7 H56 Z"/>
<text x="4.6" y="71.2" font-size="19.5" textLength="54.5" lengthAdjust="spacingAndGlyphs">IRM</text>
</g>
<g transform="translate(640,0)" fill="#0055FF">
<path d="M7 4.7 H19.7 C23 5.5 26.5 10 27.8 15.5 C29.6 23 29 33 25.2 41 C23 45.5 21.5 49 21.3 53.7 H7 Z"/>
<path d="M56 7.9 C52 8.4 46.5 12.3 42.6 18.9 C40.6 23 41.6 28 37.3 34.7 C33 40 28 44 25.4 48.9 C24.3 50.8 23.8 52 23.7 53.7 H56 Z"/>
<text x="4.6" y="71.2" font-size="19.5" textLength="54.5" lengthAdjust="spacingAndGlyphs">IRM</text>
</g>
<text x="78.8" y="30.9" font-size="14.5" font-weight="bold" textLength="195.6" lengthAdjust="spacingAndGlyphs">Rayonnement solaire global</text>
<text x="77.6" y="51.7" font-size="13" textLength="101.6" lengthAdjust="spacingAndGlyphs">cumul mars 2024</text>
<text x="718.4" y="30.9" font-size="14.5" font-weight="bold" textLength="364.4" lengthAdjust="spacingAndGlyphs">Rapport à la normale du rayonnement solaire global</text>
<text x="717.6" y="51.7" font-size="13" textLength="370" lengthAdjust="spacingAndGlyphs">cumul mars 2024 par rapport à la normale mensuelle 1991-2020</text>
<rect x="563" y="96" width="26" height="49.9" fill="#E31A1C"/>
<rect x="563" y="145.4" width="26" height="49.9" fill="#F84728"/>
<rect x="563" y="194.8" width="26" height="49.9" fill="#FD7B37"/>
<rect x="563" y="244.2" width="26" height="49.9" fill="#FEA245"/>
<rect x="563" y="293.6" width="26" height="49.9" fill="#FEC35E"/>
<rect x="563" y="343" width="26" height="49.9" fill="#FEDF82"/>
<rect x="563" y="392.4" width="26" height="49.9" fill="#FFF0A6"/>
<rect x="563" y="441.8" width="26" height="49.4" fill="#FFFFCC"/>
<text x="601.2" y="101.9" font-size="13" letter-spacing="1.2" fill="#000">82</text>
<text x="601.2" y="151.3" font-size="13" letter-spacing="1.2" fill="#000">80</text>
<text x="601.2" y="200.7" font-size="13" letter-spacing="1.2" fill="#000">78</text>
<text x="601.2" y="250.1" font-size="13" letter-spacing="1.2" fill="#000">76</text>
<text x="601.2" y="299.5" font-size="13" letter-spacing="1.2" fill="#000">74</text>
<text x="601.2" y="348.9" font-size="13" letter-spacing="1.2" fill="#000">72</text>
<text x="601.2" y="398.3" font-size="13" letter-spacing="1.2" fill="#000">70</text>
<text x="601.2" y="447.7" font-size="13" letter-spacing="1.2" fill="#000">68</text>
<text x="601.2" y="497.1" font-size="13" letter-spacing="1.2" fill="#000">66</text>
<text x="632" y="74.3" font-size="14" font-weight="bold" text-anchor="end" fill="#000">kWh/m²</text>
<rect x="1203" y="96" width="26" height="49.9" fill="#FDD68B"/>
<rect x="1203" y="145.4" width="26" height="49.9" fill="#FEEDB0"/>
<rect x="1203" y="194.8" width="26" height="49.9" fill="#FDFBDD"/>
<rect x="1203" y="244.2" width="26" height="49.9" fill="#F3F3E6"/>
<rect x="1203" y="293.6" width="26" height="49.9" fill="#E0E0E0"/>
<rect x="1203" y="343" width="26" height="49.9" fill="#C4C4C4"/>
<rect x="1203" y="392.4" width="26" height="49.9" fill="#969696"/>
<rect x="1203" y="441.8" width="26" height="49.4" fill="#636363"/>
<text x="1241.2" y="101.9" font-size="13" letter-spacing="1.2" fill="#000">104</text>
<text x="1241.2" y="151.3" font-size="13" letter-spacing="1.2" fill="#000">102</text>
<text x="1241.2" y="200.7" font-size="13" letter-spacing="1.2" fill="#000">100</text>
<text x="1241.2" y="250.1" font-size="13" letter-spacing="1.2" fill="#000">98</text>
<text x="1241.2" y="299.5" font-size="13" letter-spacing="1.2" fill="#000">96</text>
<text x="1241.2" y="348.9" font-size="13" letter-spacing="1.2" fill="#000">94</text>
<text x="1241.2" y="398.3" font-size="13" letter-spacing="1.2" fill="#000">92</text>
<text x="1241.2" y="447.7" font-size="13" letter-spacing="1.2" fill="#000">90</text>
<text x="1241.2" y="497.1" font-size="13" letter-spacing="1.2" fill="#000">88</text>
<text x="1273.3" y="74.3" font-size="14" font-weight="bold" text-anchor="end" fill="#000">%</text>
</g>
</svg>
</body></html>
